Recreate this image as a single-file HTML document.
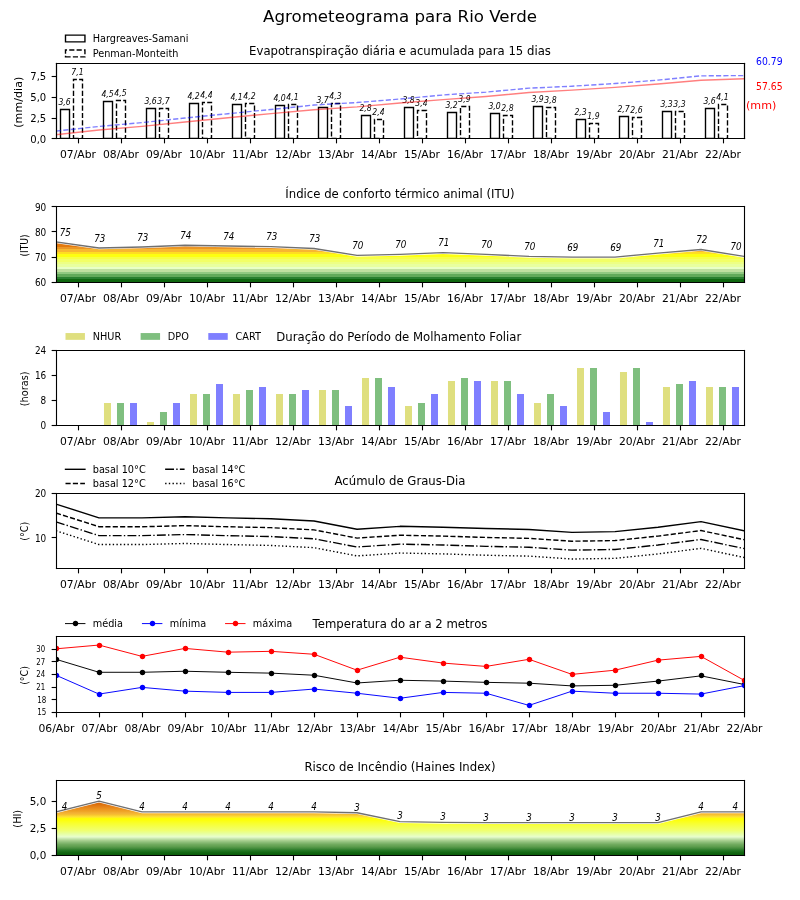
<!DOCTYPE html>
<html><head><meta charset="utf-8"><title>Agrometeograma para Rio Verde</title><style>html,body{margin:0;padding:0;background:#fff;}svg{display:block;}</style></head><body>
<svg width="800" height="900" viewBox="0 0 576 648" version="1.1">
  <defs><linearGradient id="gITU" gradientUnits="userSpaceOnUse" x1="0" y1="202.855" x2="0" y2="174.252"><stop offset="0.0000" stop-color="#0f670f"/><stop offset="0.0633" stop-color="#0f670f"/><stop offset="0.0633" stop-color="#2a8030"/><stop offset="0.1266" stop-color="#2a8030"/><stop offset="0.1266" stop-color="#62aa5a"/><stop offset="0.1899" stop-color="#62aa5a"/><stop offset="0.1899" stop-color="#91c981"/><stop offset="0.2532" stop-color="#91c981"/><stop offset="0.2532" stop-color="#c0e0a0"/><stop offset="0.3165" stop-color="#c0e0a0"/><stop offset="0.3165" stop-color="#e8ffc6"/><stop offset="0.3797" stop-color="#e8ffc6"/><stop offset="0.3797" stop-color="#e8ff9f"/><stop offset="0.4430" stop-color="#e8ff9f"/><stop offset="0.4430" stop-color="#edff84"/><stop offset="0.5063" stop-color="#edff84"/><stop offset="0.5063" stop-color="#f2ff66"/><stop offset="0.5696" stop-color="#f2ff66"/><stop offset="0.5696" stop-color="#f7ff45"/><stop offset="0.6329" stop-color="#f7ff45"/><stop offset="0.6329" stop-color="#fdff11"/><stop offset="0.6962" stop-color="#fdff11"/><stop offset="0.6962" stop-color="#ffdd22"/><stop offset="0.7595" stop-color="#ffdd22"/><stop offset="0.7595" stop-color="#f8b730"/><stop offset="0.8228" stop-color="#f8b730"/><stop offset="0.8228" stop-color="#eb9626"/><stop offset="0.8861" stop-color="#eb9626"/><stop offset="0.8861" stop-color="#e3790d"/><stop offset="0.9494" stop-color="#e3790d"/><stop offset="0.9494" stop-color="#de6700"/><stop offset="1.0000" stop-color="#de6700"/></linearGradient><linearGradient id="gHI" gradientUnits="userSpaceOnUse" x1="0" y1="615.600" x2="0" y2="576.808"><stop offset="0.0000" stop-color="#0a5c0a"/><stop offset="0.0460" stop-color="#126812"/><stop offset="0.0830" stop-color="#237723"/><stop offset="0.1210" stop-color="#448c3c"/><stop offset="0.1580" stop-color="#5e9e4e"/><stop offset="0.1950" stop-color="#70aa5e"/><stop offset="0.2320" stop-color="#8abc76"/><stop offset="0.2690" stop-color="#a8d090"/><stop offset="0.3000" stop-color="#c4e4ac"/><stop offset="0.3250" stop-color="#dcf4c4"/><stop offset="0.3450" stop-color="#e8ffc8"/><stop offset="0.3650" stop-color="#e8ffb8"/><stop offset="0.4050" stop-color="#e8ff98"/><stop offset="0.4550" stop-color="#f0ff70"/><stop offset="0.5200" stop-color="#f4ff50"/><stop offset="0.5840" stop-color="#f8ff30"/><stop offset="0.6400" stop-color="#fcff10"/><stop offset="0.6750" stop-color="#ffff00"/><stop offset="0.6900" stop-color="#fff020"/><stop offset="0.7050" stop-color="#fde530"/><stop offset="0.7200" stop-color="#fcd834"/><stop offset="0.7400" stop-color="#f8c830"/><stop offset="0.7600" stop-color="#f5b830"/><stop offset="0.7800" stop-color="#f2b038"/><stop offset="0.8000" stop-color="#f0a828"/><stop offset="0.8500" stop-color="#ec9420"/><stop offset="0.9000" stop-color="#e48018"/><stop offset="0.9600" stop-color="#d86808"/><stop offset="1.0000" stop-color="#d46008"/></linearGradient>
  <style type="text/css">*{stroke-linejoin: round; stroke-linecap: butt}</style>
 </defs>
 <g id="figure_1">
  <g id="patch_1">
   <path d="M 0 648 L 576 648 L 576 0 L 0 0 z
" style="fill: #ffffff"/>
  </g>
  <g id="axes_1">
   <g id="patch_2">
    <path d="M 40.32 99.668571 L 535.68 99.668571 L 535.68 45.36 L 40.32 45.36 z
" style="fill: #ffffff"/>
   </g>
   <g id="patch_3">
    <path d="M 43.56 99.72 L 50.04 99.72 L 50.04 78.84 L 43.56 78.84 L 43.56 99.72 z
" clip-path="url(#pa5bd906f96)" style="fill: none; stroke: #000000; stroke-linejoin: miter"/>
   </g>
   <g id="patch_4">
    <path d="M 74.52 99.72 L 81 99.72 L 81 73.08 L 74.52 73.08 L 74.52 99.72 z
" clip-path="url(#pa5bd906f96)" style="fill: none; stroke: #000000; stroke-linejoin: miter"/>
   </g>
   <g id="patch_5">
    <path d="M 105.48 99.72 L 111.96 99.72 L 111.96 78.12 L 105.48 78.12 L 105.48 99.72 z
" clip-path="url(#pa5bd906f96)" style="fill: none; stroke: #000000; stroke-linejoin: miter"/>
   </g>
   <g id="patch_6">
    <path d="M 136.44 99.72 L 142.92 99.72 L 142.92 74.52 L 136.44 74.52 L 136.44 99.72 z
" clip-path="url(#pa5bd906f96)" style="fill: none; stroke: #000000; stroke-linejoin: miter"/>
   </g>
   <g id="patch_7">
    <path d="M 167.4 99.72 L 173.88 99.72 L 173.88 75.24 L 167.4 75.24 L 167.4 99.72 z
" clip-path="url(#pa5bd906f96)" style="fill: none; stroke: #000000; stroke-linejoin: miter"/>
   </g>
   <g id="patch_8">
    <path d="M 198.36 99.72 L 204.84 99.72 L 204.84 75.96 L 198.36 75.96 L 198.36 99.72 z
" clip-path="url(#pa5bd906f96)" style="fill: none; stroke: #000000; stroke-linejoin: miter"/>
   </g>
   <g id="patch_9">
    <path d="M 229.32 99.72 L 235.8 99.72 L 235.8 77.4 L 229.32 77.4 L 229.32 99.72 z
" clip-path="url(#pa5bd906f96)" style="fill: none; stroke: #000000; stroke-linejoin: miter"/>
   </g>
   <g id="patch_10">
    <path d="M 260.28 99.72 L 266.76 99.72 L 266.76 83.16 L 260.28 83.16 L 260.28 99.72 z
" clip-path="url(#pa5bd906f96)" style="fill: none; stroke: #000000; stroke-linejoin: miter"/>
   </g>
   <g id="patch_11">
    <path d="M 291.24 99.72 L 297.72 99.72 L 297.72 77.4 L 291.24 77.4 L 291.24 99.72 z
" clip-path="url(#pa5bd906f96)" style="fill: none; stroke: #000000; stroke-linejoin: miter"/>
   </g>
   <g id="patch_12">
    <path d="M 322.2 99.72 L 328.68 99.72 L 328.68 81 L 322.2 81 L 322.2 99.72 z
" clip-path="url(#pa5bd906f96)" style="fill: none; stroke: #000000; stroke-linejoin: miter"/>
   </g>
   <g id="patch_13">
    <path d="M 353.16 99.72 L 359.64 99.72 L 359.64 81.72 L 353.16 81.72 L 353.16 99.72 z
" clip-path="url(#pa5bd906f96)" style="fill: none; stroke: #000000; stroke-linejoin: miter"/>
   </g>
   <g id="patch_14">
    <path d="M 384.12 99.72 L 390.6 99.72 L 390.6 76.68 L 384.12 76.68 L 384.12 99.72 z
" clip-path="url(#pa5bd906f96)" style="fill: none; stroke: #000000; stroke-linejoin: miter"/>
   </g>
   <g id="patch_15">
    <path d="M 415.08 99.72 L 421.56 99.72 L 421.56 86.04 L 415.08 86.04 L 415.08 99.72 z
" clip-path="url(#pa5bd906f96)" style="fill: none; stroke: #000000; stroke-linejoin: miter"/>
   </g>
   <g id="patch_16">
    <path d="M 446.04 99.72 L 452.52 99.72 L 452.52 83.88 L 446.04 83.88 L 446.04 99.72 z
" clip-path="url(#pa5bd906f96)" style="fill: none; stroke: #000000; stroke-linejoin: miter"/>
   </g>
   <g id="patch_17">
    <path d="M 477 99.72 L 483.48 99.72 L 483.48 80.28 L 477 80.28 L 477 99.72 z
" clip-path="url(#pa5bd906f96)" style="fill: none; stroke: #000000; stroke-linejoin: miter"/>
   </g>
   <g id="patch_18">
    <path d="M 507.96 99.72 L 514.44 99.72 L 514.44 78.12 L 507.96 78.12 L 507.96 99.72 z
" clip-path="url(#pa5bd906f96)" style="fill: none; stroke: #000000; stroke-linejoin: miter"/>
   </g>
   <g id="patch_19">
    <path d="M 52.92 99.72 L 59.4 99.72 L 59.4 57.24 L 52.92 57.24 L 52.92 99.72 z
" clip-path="url(#pa5bd906f96)" style="fill: none; stroke-dasharray: 3.7,1.6; stroke-dashoffset: 0; stroke: #000000; stroke-linejoin: miter"/>
   </g>
   <g id="patch_20">
    <path d="M 83.88 99.72 L 90.36 99.72 L 90.36 72.36 L 83.88 72.36 L 83.88 99.72 z
" clip-path="url(#pa5bd906f96)" style="fill: none; stroke-dasharray: 3.7,1.6; stroke-dashoffset: 0; stroke: #000000; stroke-linejoin: miter"/>
   </g>
   <g id="patch_21">
    <path d="M 114.84 99.72 L 121.32 99.72 L 121.32 78.12 L 114.84 78.12 L 114.84 99.72 z
" clip-path="url(#pa5bd906f96)" style="fill: none; stroke-dasharray: 3.7,1.6; stroke-dashoffset: 0; stroke: #000000; stroke-linejoin: miter"/>
   </g>
   <g id="patch_22">
    <path d="M 145.8 99.72 L 152.28 99.72 L 152.28 73.8 L 145.8 73.8 L 145.8 99.72 z
" clip-path="url(#pa5bd906f96)" style="fill: none; stroke-dasharray: 3.7,1.6; stroke-dashoffset: 0; stroke: #000000; stroke-linejoin: miter"/>
   </g>
   <g id="patch_23">
    <path d="M 176.76 99.72 L 183.24 99.72 L 183.24 74.52 L 176.76 74.52 L 176.76 99.72 z
" clip-path="url(#pa5bd906f96)" style="fill: none; stroke-dasharray: 3.7,1.6; stroke-dashoffset: 0; stroke: #000000; stroke-linejoin: miter"/>
   </g>
   <g id="patch_24">
    <path d="M 207.72 99.72 L 214.2 99.72 L 214.2 75.24 L 207.72 75.24 L 207.72 99.72 z
" clip-path="url(#pa5bd906f96)" style="fill: none; stroke-dasharray: 3.7,1.6; stroke-dashoffset: 0; stroke: #000000; stroke-linejoin: miter"/>
   </g>
   <g id="patch_25">
    <path d="M 238.68 99.72 L 245.16 99.72 L 245.16 74.52 L 238.68 74.52 L 238.68 99.72 z
" clip-path="url(#pa5bd906f96)" style="fill: none; stroke-dasharray: 3.7,1.6; stroke-dashoffset: 0; stroke: #000000; stroke-linejoin: miter"/>
   </g>
   <g id="patch_26">
    <path d="M 269.64 99.72 L 276.12 99.72 L 276.12 86.04 L 269.64 86.04 L 269.64 99.72 z
" clip-path="url(#pa5bd906f96)" style="fill: none; stroke-dasharray: 3.7,1.6; stroke-dashoffset: 0; stroke: #000000; stroke-linejoin: miter"/>
   </g>
   <g id="patch_27">
    <path d="M 300.6 99.72 L 307.08 99.72 L 307.08 79.56 L 300.6 79.56 L 300.6 99.72 z
" clip-path="url(#pa5bd906f96)" style="fill: none; stroke-dasharray: 3.7,1.6; stroke-dashoffset: 0; stroke: #000000; stroke-linejoin: miter"/>
   </g>
   <g id="patch_28">
    <path d="M 331.56 99.72 L 338.04 99.72 L 338.04 76.68 L 331.56 76.68 L 331.56 99.72 z
" clip-path="url(#pa5bd906f96)" style="fill: none; stroke-dasharray: 3.7,1.6; stroke-dashoffset: 0; stroke: #000000; stroke-linejoin: miter"/>
   </g>
   <g id="patch_29">
    <path d="M 362.52 99.72 L 369 99.72 L 369 83.16 L 362.52 83.16 L 362.52 99.72 z
" clip-path="url(#pa5bd906f96)" style="fill: none; stroke-dasharray: 3.7,1.6; stroke-dashoffset: 0; stroke: #000000; stroke-linejoin: miter"/>
   </g>
   <g id="patch_30">
    <path d="M 393.48 99.72 L 399.96 99.72 L 399.96 77.4 L 393.48 77.4 L 393.48 99.72 z
" clip-path="url(#pa5bd906f96)" style="fill: none; stroke-dasharray: 3.7,1.6; stroke-dashoffset: 0; stroke: #000000; stroke-linejoin: miter"/>
   </g>
   <g id="patch_31">
    <path d="M 424.44 99.72 L 430.92 99.72 L 430.92 88.92 L 424.44 88.92 L 424.44 99.72 z
" clip-path="url(#pa5bd906f96)" style="fill: none; stroke-dasharray: 3.7,1.6; stroke-dashoffset: 0; stroke: #000000; stroke-linejoin: miter"/>
   </g>
   <g id="patch_32">
    <path d="M 455.4 99.72 L 461.88 99.72 L 461.88 84.6 L 455.4 84.6 L 455.4 99.72 z
" clip-path="url(#pa5bd906f96)" style="fill: none; stroke-dasharray: 3.7,1.6; stroke-dashoffset: 0; stroke: #000000; stroke-linejoin: miter"/>
   </g>
   <g id="patch_33">
    <path d="M 486.36 99.72 L 492.84 99.72 L 492.84 80.28 L 486.36 80.28 L 486.36 99.72 z
" clip-path="url(#pa5bd906f96)" style="fill: none; stroke-dasharray: 3.7,1.6; stroke-dashoffset: 0; stroke: #000000; stroke-linejoin: miter"/>
   </g>
   <g id="patch_34">
    <path d="M 517.32 99.72 L 523.8 99.72 L 523.8 75.24 L 517.32 75.24 L 517.32 99.72 z
" clip-path="url(#pa5bd906f96)" style="fill: none; stroke-dasharray: 3.7,1.6; stroke-dashoffset: 0; stroke: #000000; stroke-linejoin: miter"/>
   </g>
   <g id="matplotlib.axis_1">
    <g id="xtick_1">
     <g id="line2d_1">
      <defs>
       <path id="m1504cfccaf" d="M 0 0 L 0 3.5 " style="stroke: #000000; stroke-width: 0.8"/>
      </defs>
      <g>
       <use href="#m1504cfccaf" x="56.52" y="99.72" style="stroke: #000000; stroke-width: 0.8"/>
      </g>
     </g>
     <g id="xt0_0">
      <text style="font-size: 8px; font-family: 'DejaVu Sans', sans-serif; text-anchor: middle" x="55.8" y="114.043321" transform="translate(0.36 0) rotate(-0 55.8 114.043321) translate(55.8 114.043321) scale(0.97 1) translate(-55.8 -114.043321)">07/Abr</text>
     </g>
    </g>
    <g id="xtick_2">
     <g id="line2d_2">
      <g>
       <use href="#m1504cfccaf" x="87.48" y="99.72" style="stroke: #000000; stroke-width: 0.8"/>
      </g>
     </g>
     <g id="xt0_1">
      <text style="font-size: 8px; font-family: 'DejaVu Sans', sans-serif; text-anchor: middle" x="86.76" y="114.043321" transform="translate(0.36 0) rotate(-0 86.76 114.043321) translate(86.76 114.043321) scale(0.97 1) translate(-86.76 -114.043321)">08/Abr</text>
     </g>
    </g>
    <g id="xtick_3">
     <g id="line2d_3">
      <g>
       <use href="#m1504cfccaf" x="118.44" y="99.72" style="stroke: #000000; stroke-width: 0.8"/>
      </g>
     </g>
     <g id="xt0_2">
      <text style="font-size: 8px; font-family: 'DejaVu Sans', sans-serif; text-anchor: middle" x="117.72" y="114.043321" transform="translate(0.36 0) rotate(-0 117.72 114.043321) translate(117.72 114.043321) scale(0.97 1) translate(-117.72 -114.043321)">09/Abr</text>
     </g>
    </g>
    <g id="xtick_4">
     <g id="line2d_4">
      <g>
       <use href="#m1504cfccaf" x="149.4" y="99.72" style="stroke: #000000; stroke-width: 0.8"/>
      </g>
     </g>
     <g id="xt0_3">
      <text style="font-size: 8px; font-family: 'DejaVu Sans', sans-serif; text-anchor: middle" x="148.68" y="114.043321" transform="translate(0.36 0) rotate(-0 148.68 114.043321) translate(148.68 114.043321) scale(0.97 1) translate(-148.68 -114.043321)">10/Abr</text>
     </g>
    </g>
    <g id="xtick_5">
     <g id="line2d_5">
      <g>
       <use href="#m1504cfccaf" x="180.36" y="99.72" style="stroke: #000000; stroke-width: 0.8"/>
      </g>
     </g>
     <g id="xt0_4">
      <text style="font-size: 8px; font-family: 'DejaVu Sans', sans-serif; text-anchor: middle" x="179.64" y="114.043321" transform="translate(0.36 0) rotate(-0 179.64 114.043321) translate(179.64 114.043321) scale(0.97 1) translate(-179.64 -114.043321)">11/Abr</text>
     </g>
    </g>
    <g id="xtick_6">
     <g id="line2d_6">
      <g>
       <use href="#m1504cfccaf" x="211.32" y="99.72" style="stroke: #000000; stroke-width: 0.8"/>
      </g>
     </g>
     <g id="xt0_5">
      <text style="font-size: 8px; font-family: 'DejaVu Sans', sans-serif; text-anchor: middle" x="210.6" y="114.043321" transform="translate(0.36 0) rotate(-0 210.6 114.043321) translate(210.6 114.043321) scale(0.97 1) translate(-210.6 -114.043321)">12/Abr</text>
     </g>
    </g>
    <g id="xtick_7">
     <g id="line2d_7">
      <g>
       <use href="#m1504cfccaf" x="242.28" y="99.72" style="stroke: #000000; stroke-width: 0.8"/>
      </g>
     </g>
     <g id="xt0_6">
      <text style="font-size: 8px; font-family: 'DejaVu Sans', sans-serif; text-anchor: middle" x="241.56" y="114.043321" transform="translate(0.36 0) rotate(-0 241.56 114.043321) translate(241.56 114.043321) scale(0.97 1) translate(-241.56 -114.043321)">13/Abr</text>
     </g>
    </g>
    <g id="xtick_8">
     <g id="line2d_8">
      <g>
       <use href="#m1504cfccaf" x="273.24" y="99.72" style="stroke: #000000; stroke-width: 0.8"/>
      </g>
     </g>
     <g id="xt0_7">
      <text style="font-size: 8px; font-family: 'DejaVu Sans', sans-serif; text-anchor: middle" x="272.52" y="114.043321" transform="translate(0.36 0) rotate(-0 272.52 114.043321) translate(272.52 114.043321) scale(0.97 1) translate(-272.52 -114.043321)">14/Abr</text>
     </g>
    </g>
    <g id="xtick_9">
     <g id="line2d_9">
      <g>
       <use href="#m1504cfccaf" x="304.2" y="99.72" style="stroke: #000000; stroke-width: 0.8"/>
      </g>
     </g>
     <g id="xt0_8">
      <text style="font-size: 8px; font-family: 'DejaVu Sans', sans-serif; text-anchor: middle" x="303.48" y="114.043321" transform="translate(0.36 0) rotate(-0 303.48 114.043321) translate(303.48 114.043321) scale(0.97 1) translate(-303.48 -114.043321)">15/Abr</text>
     </g>
    </g>
    <g id="xtick_10">
     <g id="line2d_10">
      <g>
       <use href="#m1504cfccaf" x="335.16" y="99.72" style="stroke: #000000; stroke-width: 0.8"/>
      </g>
     </g>
     <g id="xt0_9">
      <text style="font-size: 8px; font-family: 'DejaVu Sans', sans-serif; text-anchor: middle" x="334.44" y="114.043321" transform="translate(0.36 0) rotate(-0 334.44 114.043321) translate(334.44 114.043321) scale(0.97 1) translate(-334.44 -114.043321)">16/Abr</text>
     </g>
    </g>
    <g id="xtick_11">
     <g id="line2d_11">
      <g>
       <use href="#m1504cfccaf" x="366.12" y="99.72" style="stroke: #000000; stroke-width: 0.8"/>
      </g>
     </g>
     <g id="xt0_10">
      <text style="font-size: 8px; font-family: 'DejaVu Sans', sans-serif; text-anchor: middle" x="365.4" y="114.043321" transform="translate(0.36 0) rotate(-0 365.4 114.043321) translate(365.4 114.043321) scale(0.97 1) translate(-365.4 -114.043321)">17/Abr</text>
     </g>
    </g>
    <g id="xtick_12">
     <g id="line2d_12">
      <g>
       <use href="#m1504cfccaf" x="397.08" y="99.72" style="stroke: #000000; stroke-width: 0.8"/>
      </g>
     </g>
     <g id="xt0_11">
      <text style="font-size: 8px; font-family: 'DejaVu Sans', sans-serif; text-anchor: middle" x="396.36" y="114.043321" transform="translate(0.36 0) rotate(-0 396.36 114.043321) translate(396.36 114.043321) scale(0.97 1) translate(-396.36 -114.043321)">18/Abr</text>
     </g>
    </g>
    <g id="xtick_13">
     <g id="line2d_13">
      <g>
       <use href="#m1504cfccaf" x="428.04" y="99.72" style="stroke: #000000; stroke-width: 0.8"/>
      </g>
     </g>
     <g id="xt0_12">
      <text style="font-size: 8px; font-family: 'DejaVu Sans', sans-serif; text-anchor: middle" x="427.32" y="114.043321" transform="translate(0.36 0) rotate(-0 427.32 114.043321) translate(427.32 114.043321) scale(0.97 1) translate(-427.32 -114.043321)">19/Abr</text>
     </g>
    </g>
    <g id="xtick_14">
     <g id="line2d_14">
      <g>
       <use href="#m1504cfccaf" x="459" y="99.72" style="stroke: #000000; stroke-width: 0.8"/>
      </g>
     </g>
     <g id="xt0_13">
      <text style="font-size: 8px; font-family: 'DejaVu Sans', sans-serif; text-anchor: middle" x="458.28" y="114.043321" transform="translate(0.36 0) rotate(-0 458.28 114.043321) translate(458.28 114.043321) scale(0.97 1) translate(-458.28 -114.043321)">20/Abr</text>
     </g>
    </g>
    <g id="xtick_15">
     <g id="line2d_15">
      <g>
       <use href="#m1504cfccaf" x="489.96" y="99.72" style="stroke: #000000; stroke-width: 0.8"/>
      </g>
     </g>
     <g id="xt0_14">
      <text style="font-size: 8px; font-family: 'DejaVu Sans', sans-serif; text-anchor: middle" x="489.24" y="114.043321" transform="translate(0.36 0) rotate(-0 489.24 114.043321) translate(489.24 114.043321) scale(0.97 1) translate(-489.24 -114.043321)">21/Abr</text>
     </g>
    </g>
    <g id="xtick_16">
     <g id="line2d_16">
      <g>
       <use href="#m1504cfccaf" x="520.92" y="99.72" style="stroke: #000000; stroke-width: 0.8"/>
      </g>
     </g>
     <g id="xt0_15">
      <text style="font-size: 8px; font-family: 'DejaVu Sans', sans-serif; text-anchor: middle" x="520.2" y="114.043321" transform="translate(0.36 0) rotate(-0 520.2 114.043321) translate(520.2 114.043321) scale(0.97 1) translate(-520.2 -114.043321)">22/Abr</text>
     </g>
    </g>
   </g>
   <g id="matplotlib.axis_2">
    <g id="ytick_1">
     <g id="line2d_17">
      <defs>
       <path id="m5d545ce8f8" d="M 0 0 L -3.5 0 " style="stroke: #000000; stroke-width: 0.8"/>
      </defs>
      <g>
       <use href="#m5d545ce8f8" x="40.68" y="99.72" style="stroke: #000000; stroke-width: 0.8"/>
      </g>
     </g>
     <g id="yt0_0">
      <text style="font-size: 8px; font-family: 'DejaVu Sans', sans-serif; text-anchor: end" x="33.32" y="102.707946" transform="translate(0 0) rotate(-0 33.32 102.707946) translate(33.32 102.707946) scale(0.906 1) translate(-33.32 -102.707946)">0,0</text>
     </g>
    </g>
    <g id="ytick_2">
     <g id="line2d_18">
      <g>
       <use href="#m5d545ce8f8" x="40.68" y="85.32" style="stroke: #000000; stroke-width: 0.8"/>
      </g>
     </g>
     <g id="yt0_1">
      <text style="font-size: 8px; font-family: 'DejaVu Sans', sans-serif; text-anchor: end" x="33.32" y="87.788009" transform="translate(0 0) rotate(-0 33.32 87.788009) translate(33.32 87.788009) scale(0.906 1) translate(-33.32 -87.788009)">2,5</text>
     </g>
    </g>
    <g id="ytick_3">
     <g id="line2d_19">
      <g>
       <use href="#m5d545ce8f8" x="40.68" y="70.2" style="stroke: #000000; stroke-width: 0.8"/>
      </g>
     </g>
     <g id="yt0_2">
      <text style="font-size: 8px; font-family: 'DejaVu Sans', sans-serif; text-anchor: end" x="33.32" y="72.868072" transform="translate(0 0) rotate(-0 33.32 72.868072) translate(33.32 72.868072) scale(0.906 1) translate(-33.32 -72.868072)">5,0</text>
     </g>
    </g>
    <g id="ytick_4">
     <g id="line2d_20">
      <g>
       <use href="#m5d545ce8f8" x="40.68" y="55.08" style="stroke: #000000; stroke-width: 0.8"/>
      </g>
     </g>
     <g id="yt0_3">
      <text style="font-size: 8px; font-family: 'DejaVu Sans', sans-serif; text-anchor: end" x="33.32" y="57.948135" transform="translate(0 0) rotate(-0 33.32 57.948135) translate(33.32 57.948135) scale(0.906 1) translate(-33.32 -57.948135)">7,5</text>
     </g>
    </g>
    <g id="yl0">
     <text style="font-size: 8px; font-family: 'DejaVu Sans', sans-serif; text-anchor: middle" x="14.93375" y="72.514286" transform="translate(0.72 1.08) rotate(-90 14.93375 72.514286)">(mm/dia)</text>
    </g>
   </g>
   <g id="patch_35">
    <path d="M 40.68 99.72 L 40.68 45.72 " style="fill: none; stroke: #000000; stroke-width: 0.8; stroke-linejoin: miter; stroke-linecap: square"/>
   </g>
   <g id="patch_36">
    <path d="M 536.04 99.72 L 536.04 45.72 " style="fill: none; stroke: #000000; stroke-width: 0.8; stroke-linejoin: miter; stroke-linecap: square"/>
   </g>
   <g id="patch_37">
    <path d="M 40.68 99.72 L 536.04 99.72 " style="fill: none; stroke: #000000; stroke-width: 0.8; stroke-linejoin: miter; stroke-linecap: square"/>
   </g>
   <g id="patch_38">
    <path d="M 40.68 45.72 L 536.04 45.72 " style="fill: none; stroke: #000000; stroke-width: 0.8; stroke-linejoin: miter; stroke-linecap: square"/>
   </g>
   <g id="bl0">
    <text style="font-style: italic; font-size: 6px; font-family: 'DejaVu Sans', sans-serif; text-anchor: middle" x="46.512" y="75.901329" transform="translate(0 0) rotate(-0 46.512 75.901329) translate(46.512 75.901329) scale(0.93 1) translate(-46.512 -75.901329)">3,6</text>
   </g>
   <g id="bl20">
    <text style="font-style: italic; font-size: 6px; font-family: 'DejaVu Sans', sans-serif; text-anchor: middle" x="55.8" y="54.301329" transform="translate(0 0) rotate(-0 55.8 54.301329) translate(55.8 54.301329) scale(0.93 1) translate(-55.8 -54.301329)">7,1</text>
   </g>
   <g id="bl1">
    <text style="font-style: italic; font-size: 6px; font-family: 'DejaVu Sans', sans-serif; text-anchor: middle" x="77.472" y="70.141329" transform="translate(0 0) rotate(-0 77.472 70.141329) translate(77.472 70.141329) scale(0.93 1) translate(-77.472 -70.141329)">4,5</text>
   </g>
   <g id="bl21">
    <text style="font-style: italic; font-size: 6px; font-family: 'DejaVu Sans', sans-serif; text-anchor: middle" x="86.76" y="69.421329" transform="translate(0 0) rotate(-0 86.76 69.421329) translate(86.76 69.421329) scale(0.93 1) translate(-86.76 -69.421329)">4,5</text>
   </g>
   <g id="bl2">
    <text style="font-style: italic; font-size: 6px; font-family: 'DejaVu Sans', sans-serif; text-anchor: middle" x="108.432" y="75.181329" transform="translate(0 0) rotate(-0 108.432 75.181329) translate(108.432 75.181329) scale(0.93 1) translate(-108.432 -75.181329)">3,6</text>
   </g>
   <g id="bl22">
    <text style="font-style: italic; font-size: 6px; font-family: 'DejaVu Sans', sans-serif; text-anchor: middle" x="117.72" y="75.181329" transform="translate(0 0) rotate(-0 117.72 75.181329) translate(117.72 75.181329) scale(0.93 1) translate(-117.72 -75.181329)">3,7</text>
   </g>
   <g id="bl3">
    <text style="font-style: italic; font-size: 6px; font-family: 'DejaVu Sans', sans-serif; text-anchor: middle" x="139.392" y="71.581329" transform="translate(0 0) rotate(-0 139.392 71.581329) translate(139.392 71.581329) scale(0.93 1) translate(-139.392 -71.581329)">4,2</text>
   </g>
   <g id="bl23">
    <text style="font-style: italic; font-size: 6px; font-family: 'DejaVu Sans', sans-serif; text-anchor: middle" x="148.68" y="70.861329" transform="translate(0 0) rotate(-0 148.68 70.861329) translate(148.68 70.861329) scale(0.93 1) translate(-148.68 -70.861329)">4,4</text>
   </g>
   <g id="bl4">
    <text style="font-style: italic; font-size: 6px; font-family: 'DejaVu Sans', sans-serif; text-anchor: middle" x="170.352" y="72.301329" transform="translate(0 0) rotate(-0 170.352 72.301329) translate(170.352 72.301329) scale(0.93 1) translate(-170.352 -72.301329)">4,1</text>
   </g>
   <g id="bl24">
    <text style="font-style: italic; font-size: 6px; font-family: 'DejaVu Sans', sans-serif; text-anchor: middle" x="179.64" y="71.581329" transform="translate(0 0) rotate(-0 179.64 71.581329) translate(179.64 71.581329) scale(0.93 1) translate(-179.64 -71.581329)">4,2</text>
   </g>
   <g id="bl5">
    <text style="font-style: italic; font-size: 6px; font-family: 'DejaVu Sans', sans-serif; text-anchor: middle" x="201.312" y="73.021329" transform="translate(0 0) rotate(-0 201.312 73.021329) translate(201.312 73.021329) scale(0.93 1) translate(-201.312 -73.021329)">4,0</text>
   </g>
   <g id="bl25">
    <text style="font-style: italic; font-size: 6px; font-family: 'DejaVu Sans', sans-serif; text-anchor: middle" x="210.6" y="72.301329" transform="translate(0 0) rotate(-0 210.6 72.301329) translate(210.6 72.301329) scale(0.93 1) translate(-210.6 -72.301329)">4,1</text>
   </g>
   <g id="bl6">
    <text style="font-style: italic; font-size: 6px; font-family: 'DejaVu Sans', sans-serif; text-anchor: middle" x="232.272" y="74.461329" transform="translate(0 0) rotate(-0 232.272 74.461329) translate(232.272 74.461329) scale(0.93 1) translate(-232.272 -74.461329)">3,7</text>
   </g>
   <g id="bl26">
    <text style="font-style: italic; font-size: 6px; font-family: 'DejaVu Sans', sans-serif; text-anchor: middle" x="241.56" y="71.581329" transform="translate(0 0) rotate(-0 241.56 71.581329) translate(241.56 71.581329) scale(0.93 1) translate(-241.56 -71.581329)">4,3</text>
   </g>
   <g id="bl7">
    <text style="font-style: italic; font-size: 6px; font-family: 'DejaVu Sans', sans-serif; text-anchor: middle" x="263.232" y="80.221329" transform="translate(0 0) rotate(-0 263.232 80.221329) translate(263.232 80.221329) scale(0.93 1) translate(-263.232 -80.221329)">2,8</text>
   </g>
   <g id="bl27">
    <text style="font-style: italic; font-size: 6px; font-family: 'DejaVu Sans', sans-serif; text-anchor: middle" x="272.52" y="83.101329" transform="translate(0 0) rotate(-0 272.52 83.101329) translate(272.52 83.101329) scale(0.93 1) translate(-272.52 -83.101329)">2,4</text>
   </g>
   <g id="bl8">
    <text style="font-style: italic; font-size: 6px; font-family: 'DejaVu Sans', sans-serif; text-anchor: middle" x="294.192" y="74.461329" transform="translate(0 0) rotate(-0 294.192 74.461329) translate(294.192 74.461329) scale(0.93 1) translate(-294.192 -74.461329)">3,8</text>
   </g>
   <g id="bl28">
    <text style="font-style: italic; font-size: 6px; font-family: 'DejaVu Sans', sans-serif; text-anchor: middle" x="303.48" y="76.621329" transform="translate(0 0) rotate(-0 303.48 76.621329) translate(303.48 76.621329) scale(0.93 1) translate(-303.48 -76.621329)">3,4</text>
   </g>
   <g id="bl9">
    <text style="font-style: italic; font-size: 6px; font-family: 'DejaVu Sans', sans-serif; text-anchor: middle" x="325.152" y="78.061329" transform="translate(0 0) rotate(-0 325.152 78.061329) translate(325.152 78.061329) scale(0.93 1) translate(-325.152 -78.061329)">3,2</text>
   </g>
   <g id="bl29">
    <text style="font-style: italic; font-size: 6px; font-family: 'DejaVu Sans', sans-serif; text-anchor: middle" x="334.44" y="73.741329" transform="translate(0 0) rotate(-0 334.44 73.741329) translate(334.44 73.741329) scale(0.93 1) translate(-334.44 -73.741329)">3,9</text>
   </g>
   <g id="bl10">
    <text style="font-style: italic; font-size: 6px; font-family: 'DejaVu Sans', sans-serif; text-anchor: middle" x="356.112" y="78.781329" transform="translate(0 0) rotate(-0 356.112 78.781329) translate(356.112 78.781329) scale(0.93 1) translate(-356.112 -78.781329)">3,0</text>
   </g>
   <g id="bl30">
    <text style="font-style: italic; font-size: 6px; font-family: 'DejaVu Sans', sans-serif; text-anchor: middle" x="365.4" y="80.221329" transform="translate(0 0) rotate(-0 365.4 80.221329) translate(365.4 80.221329) scale(0.93 1) translate(-365.4 -80.221329)">2,8</text>
   </g>
   <g id="bl11">
    <text style="font-style: italic; font-size: 6px; font-family: 'DejaVu Sans', sans-serif; text-anchor: middle" x="387.072" y="73.741329" transform="translate(0 0) rotate(-0 387.072 73.741329) translate(387.072 73.741329) scale(0.93 1) translate(-387.072 -73.741329)">3,9</text>
   </g>
   <g id="bl31">
    <text style="font-style: italic; font-size: 6px; font-family: 'DejaVu Sans', sans-serif; text-anchor: middle" x="396.36" y="74.461329" transform="translate(0 0) rotate(-0 396.36 74.461329) translate(396.36 74.461329) scale(0.93 1) translate(-396.36 -74.461329)">3,8</text>
   </g>
   <g id="bl12">
    <text style="font-style: italic; font-size: 6px; font-family: 'DejaVu Sans', sans-serif; text-anchor: middle" x="418.032" y="83.101329" transform="translate(0 0) rotate(-0 418.032 83.101329) translate(418.032 83.101329) scale(0.93 1) translate(-418.032 -83.101329)">2,3</text>
   </g>
   <g id="bl32">
    <text style="font-style: italic; font-size: 6px; font-family: 'DejaVu Sans', sans-serif; text-anchor: middle" x="427.32" y="85.981329" transform="translate(0 0) rotate(-0 427.32 85.981329) translate(427.32 85.981329) scale(0.93 1) translate(-427.32 -85.981329)">1,9</text>
   </g>
   <g id="bl13">
    <text style="font-style: italic; font-size: 6px; font-family: 'DejaVu Sans', sans-serif; text-anchor: middle" x="448.992" y="80.941329" transform="translate(0 0) rotate(-0 448.992 80.941329) translate(448.992 80.941329) scale(0.93 1) translate(-448.992 -80.941329)">2,7</text>
   </g>
   <g id="bl33">
    <text style="font-style: italic; font-size: 6px; font-family: 'DejaVu Sans', sans-serif; text-anchor: middle" x="458.28" y="81.661329" transform="translate(0 0) rotate(-0 458.28 81.661329) translate(458.28 81.661329) scale(0.93 1) translate(-458.28 -81.661329)">2,6</text>
   </g>
   <g id="bl14">
    <text style="font-style: italic; font-size: 6px; font-family: 'DejaVu Sans', sans-serif; text-anchor: middle" x="479.952" y="77.341329" transform="translate(0 0) rotate(-0 479.952 77.341329) translate(479.952 77.341329) scale(0.93 1) translate(-479.952 -77.341329)">3,3</text>
   </g>
   <g id="bl34">
    <text style="font-style: italic; font-size: 6px; font-family: 'DejaVu Sans', sans-serif; text-anchor: middle" x="489.24" y="77.341329" transform="translate(0 0) rotate(-0 489.24 77.341329) translate(489.24 77.341329) scale(0.93 1) translate(-489.24 -77.341329)">3,3</text>
   </g>
   <g id="bl15">
    <text style="font-style: italic; font-size: 6px; font-family: 'DejaVu Sans', sans-serif; text-anchor: middle" x="510.912" y="75.181329" transform="translate(0 0) rotate(-0 510.912 75.181329) translate(510.912 75.181329) scale(0.93 1) translate(-510.912 -75.181329)">3,6</text>
   </g>
   <g id="bl35">
    <text style="font-style: italic; font-size: 6px; font-family: 'DejaVu Sans', sans-serif; text-anchor: middle" x="520.2" y="72.301329" transform="translate(0 0) rotate(-0 520.2 72.301329) translate(520.2 72.301329) scale(0.93 1) translate(-520.2 -72.301329)">4,1</text>
   </g>
   <g id="t0">
    <text style="font-size: 8.5px; font-family: 'DejaVu Sans', sans-serif; text-anchor: middle" x="288" y="39.36" transform="translate(0 0) rotate(-0 288 39.36) translate(288 39.36) scale(0.99 1) translate(-288 -39.36)">Evapotranspiração diária e acumulada para 15 dias</text>
   </g>
   <g id="legend_1">
    <g id="patch_39">
     <path d="M 47.16 30.151469 L 61.16 30.151469 L 61.16 25.251469 L 47.16 25.251469 L 47.16 30.151469 z
" style="fill: none; stroke: #000000; stroke-linejoin: miter"/>
    </g>
    <g id="lg0_0">
     <text style="font-size: 7px; font-family: 'DejaVu Sans', sans-serif; text-anchor: start" x="66.76" y="30.151469" transform="rotate(-0 66.76 30.151469)">Hargreaves-Samani</text>
    </g>
    <g id="patch_40">
     <path d="M 47.16 40.916156 L 61.16 40.916156 L 61.16 36.016156 L 47.16 36.016156 L 47.16 40.916156 z
" style="fill: none; stroke-dasharray: 3.7,1.6; stroke-dashoffset: 0; stroke: #000000; stroke-linejoin: miter"/>
    </g>
    <g id="lg0_1">
     <text style="font-size: 7px; font-family: 'DejaVu Sans', sans-serif; text-anchor: start" x="66.76" y="40.916156" transform="rotate(-0 66.76 40.916156)">Penman-Monteith</text>
    </g>
   </g>
  </g>
  <g id="axes_2">
   <g id="patch_41">
    <path d="M 40.32 202.854857 L 535.68 202.854857 L 535.68 148.546286 L 40.32 148.546286 z
" style="fill: #ffffff"/>
   </g>
   <g id="patch_42">
    <path d="M 40.32 175.188325 L 71.28 179.533011 L 102.24 178.808897 L 133.2 177.541697 L 164.16 178.084782 L 195.12 178.537354 L 226.08 179.895068 L 257.04 184.782839 L 288 184.058725 L 318.96 182.791525 L 349.92 184.058725 L 380.88 185.506954 L 411.84 186.050039 L 442.8 186.050039 L 473.76 183.153582 L 504.72 180.619182 L 535.68 185.506954 L 535.68 203.574844 L 40.32 203.574844 z
" style="fill: url(#gITU)"/>
   </g>
   <g id="matplotlib.axis_3">
    <g id="xtick_17">
     <g id="line2d_21">
      <g>
       <use href="#m1504cfccaf" x="56.52" y="203.4" style="stroke: #000000; stroke-width: 0.8"/>
      </g>
     </g>
     <g id="xt1_0">
      <text style="font-size: 8px; font-family: 'DejaVu Sans', sans-serif; text-anchor: middle" x="55.8" y="217.229607" transform="translate(0.36 0) rotate(-0 55.8 217.229607) translate(55.8 217.229607) scale(0.97 1) translate(-55.8 -217.229607)">07/Abr</text>
     </g>
    </g>
    <g id="xtick_18">
     <g id="line2d_22">
      <g>
       <use href="#m1504cfccaf" x="87.48" y="203.4" style="stroke: #000000; stroke-width: 0.8"/>
      </g>
     </g>
     <g id="xt1_1">
      <text style="font-size: 8px; font-family: 'DejaVu Sans', sans-serif; text-anchor: middle" x="86.76" y="217.229607" transform="translate(0.36 0) rotate(-0 86.76 217.229607) translate(86.76 217.229607) scale(0.97 1) translate(-86.76 -217.229607)">08/Abr</text>
     </g>
    </g>
    <g id="xtick_19">
     <g id="line2d_23">
      <g>
       <use href="#m1504cfccaf" x="118.44" y="203.4" style="stroke: #000000; stroke-width: 0.8"/>
      </g>
     </g>
     <g id="xt1_2">
      <text style="font-size: 8px; font-family: 'DejaVu Sans', sans-serif; text-anchor: middle" x="117.72" y="217.229607" transform="translate(0.36 0) rotate(-0 117.72 217.229607) translate(117.72 217.229607) scale(0.97 1) translate(-117.72 -217.229607)">09/Abr</text>
     </g>
    </g>
    <g id="xtick_20">
     <g id="line2d_24">
      <g>
       <use href="#m1504cfccaf" x="149.4" y="203.4" style="stroke: #000000; stroke-width: 0.8"/>
      </g>
     </g>
     <g id="xt1_3">
      <text style="font-size: 8px; font-family: 'DejaVu Sans', sans-serif; text-anchor: middle" x="148.68" y="217.229607" transform="translate(0.36 0) rotate(-0 148.68 217.229607) translate(148.68 217.229607) scale(0.97 1) translate(-148.68 -217.229607)">10/Abr</text>
     </g>
    </g>
    <g id="xtick_21">
     <g id="line2d_25">
      <g>
       <use href="#m1504cfccaf" x="180.36" y="203.4" style="stroke: #000000; stroke-width: 0.8"/>
      </g>
     </g>
     <g id="xt1_4">
      <text style="font-size: 8px; font-family: 'DejaVu Sans', sans-serif; text-anchor: middle" x="179.64" y="217.229607" transform="translate(0.36 0) rotate(-0 179.64 217.229607) translate(179.64 217.229607) scale(0.97 1) translate(-179.64 -217.229607)">11/Abr</text>
     </g>
    </g>
    <g id="xtick_22">
     <g id="line2d_26">
      <g>
       <use href="#m1504cfccaf" x="211.32" y="203.4" style="stroke: #000000; stroke-width: 0.8"/>
      </g>
     </g>
     <g id="xt1_5">
      <text style="font-size: 8px; font-family: 'DejaVu Sans', sans-serif; text-anchor: middle" x="210.6" y="217.229607" transform="translate(0.36 0) rotate(-0 210.6 217.229607) translate(210.6 217.229607) scale(0.97 1) translate(-210.6 -217.229607)">12/Abr</text>
     </g>
    </g>
    <g id="xtick_23">
     <g id="line2d_27">
      <g>
       <use href="#m1504cfccaf" x="242.28" y="203.4" style="stroke: #000000; stroke-width: 0.8"/>
      </g>
     </g>
     <g id="xt1_6">
      <text style="font-size: 8px; font-family: 'DejaVu Sans', sans-serif; text-anchor: middle" x="241.56" y="217.229607" transform="translate(0.36 0) rotate(-0 241.56 217.229607) translate(241.56 217.229607) scale(0.97 1) translate(-241.56 -217.229607)">13/Abr</text>
     </g>
    </g>
    <g id="xtick_24">
     <g id="line2d_28">
      <g>
       <use href="#m1504cfccaf" x="273.24" y="203.4" style="stroke: #000000; stroke-width: 0.8"/>
      </g>
     </g>
     <g id="xt1_7">
      <text style="font-size: 8px; font-family: 'DejaVu Sans', sans-serif; text-anchor: middle" x="272.52" y="217.229607" transform="translate(0.36 0) rotate(-0 272.52 217.229607) translate(272.52 217.229607) scale(0.97 1) translate(-272.52 -217.229607)">14/Abr</text>
     </g>
    </g>
    <g id="xtick_25">
     <g id="line2d_29">
      <g>
       <use href="#m1504cfccaf" x="304.2" y="203.4" style="stroke: #000000; stroke-width: 0.8"/>
      </g>
     </g>
     <g id="xt1_8">
      <text style="font-size: 8px; font-family: 'DejaVu Sans', sans-serif; text-anchor: middle" x="303.48" y="217.229607" transform="translate(0.36 0) rotate(-0 303.48 217.229607) translate(303.48 217.229607) scale(0.97 1) translate(-303.48 -217.229607)">15/Abr</text>
     </g>
    </g>
    <g id="xtick_26">
     <g id="line2d_30">
      <g>
       <use href="#m1504cfccaf" x="335.16" y="203.4" style="stroke: #000000; stroke-width: 0.8"/>
      </g>
     </g>
     <g id="xt1_9">
      <text style="font-size: 8px; font-family: 'DejaVu Sans', sans-serif; text-anchor: middle" x="334.44" y="217.229607" transform="translate(0.36 0) rotate(-0 334.44 217.229607) translate(334.44 217.229607) scale(0.97 1) translate(-334.44 -217.229607)">16/Abr</text>
     </g>
    </g>
    <g id="xtick_27">
     <g id="line2d_31">
      <g>
       <use href="#m1504cfccaf" x="366.12" y="203.4" style="stroke: #000000; stroke-width: 0.8"/>
      </g>
     </g>
     <g id="xt1_10">
      <text style="font-size: 8px; font-family: 'DejaVu Sans', sans-serif; text-anchor: middle" x="365.4" y="217.229607" transform="translate(0.36 0) rotate(-0 365.4 217.229607) translate(365.4 217.229607) scale(0.97 1) translate(-365.4 -217.229607)">17/Abr</text>
     </g>
    </g>
    <g id="xtick_28">
     <g id="line2d_32">
      <g>
       <use href="#m1504cfccaf" x="397.08" y="203.4" style="stroke: #000000; stroke-width: 0.8"/>
      </g>
     </g>
     <g id="xt1_11">
      <text style="font-size: 8px; font-family: 'DejaVu Sans', sans-serif; text-anchor: middle" x="396.36" y="217.229607" transform="translate(0.36 0) rotate(-0 396.36 217.229607) translate(396.36 217.229607) scale(0.97 1) translate(-396.36 -217.229607)">18/Abr</text>
     </g>
    </g>
    <g id="xtick_29">
     <g id="line2d_33">
      <g>
       <use href="#m1504cfccaf" x="428.04" y="203.4" style="stroke: #000000; stroke-width: 0.8"/>
      </g>
     </g>
     <g id="xt1_12">
      <text style="font-size: 8px; font-family: 'DejaVu Sans', sans-serif; text-anchor: middle" x="427.32" y="217.229607" transform="translate(0.36 0) rotate(-0 427.32 217.229607) translate(427.32 217.229607) scale(0.97 1) translate(-427.32 -217.229607)">19/Abr</text>
     </g>
    </g>
    <g id="xtick_30">
     <g id="line2d_34">
      <g>
       <use href="#m1504cfccaf" x="459" y="203.4" style="stroke: #000000; stroke-width: 0.8"/>
      </g>
     </g>
     <g id="xt1_13">
      <text style="font-size: 8px; font-family: 'DejaVu Sans', sans-serif; text-anchor: middle" x="458.28" y="217.229607" transform="translate(0.36 0) rotate(-0 458.28 217.229607) translate(458.28 217.229607) scale(0.97 1) translate(-458.28 -217.229607)">20/Abr</text>
     </g>
    </g>
    <g id="xtick_31">
     <g id="line2d_35">
      <g>
       <use href="#m1504cfccaf" x="489.96" y="203.4" style="stroke: #000000; stroke-width: 0.8"/>
      </g>
     </g>
     <g id="xt1_14">
      <text style="font-size: 8px; font-family: 'DejaVu Sans', sans-serif; text-anchor: middle" x="489.24" y="217.229607" transform="translate(0.36 0) rotate(-0 489.24 217.229607) translate(489.24 217.229607) scale(0.97 1) translate(-489.24 -217.229607)">21/Abr</text>
     </g>
    </g>
    <g id="xtick_32">
     <g id="line2d_36">
      <g>
       <use href="#m1504cfccaf" x="520.92" y="203.4" style="stroke: #000000; stroke-width: 0.8"/>
      </g>
     </g>
     <g id="xt1_15">
      <text style="font-size: 8px; font-family: 'DejaVu Sans', sans-serif; text-anchor: middle" x="520.2" y="217.229607" transform="translate(0.36 0) rotate(-0 520.2 217.229607) translate(520.2 217.229607) scale(0.97 1) translate(-520.2 -217.229607)">22/Abr</text>
     </g>
    </g>
   </g>
   <g id="matplotlib.axis_4">
    <g id="ytick_5">
     <g id="line2d_37">
      <g>
       <use href="#m5d545ce8f8" x="40.68" y="203.4" style="stroke: #000000; stroke-width: 0.8"/>
      </g>
     </g>
     <g id="yt1_0">
      <text style="font-size: 8px; font-family: 'DejaVu Sans', sans-serif; text-anchor: end" x="33.32" y="205.894232" transform="translate(0 0) rotate(-0 33.32 205.894232) translate(33.32 205.894232) scale(0.8 1) translate(-33.32 -205.894232)">60</text>
     </g>
    </g>
    <g id="ytick_6">
     <g id="line2d_38">
      <g>
       <use href="#m5d545ce8f8" x="40.68" y="185.4" style="stroke: #000000; stroke-width: 0.8"/>
      </g>
     </g>
     <g id="yt1_1">
      <text style="font-size: 8px; font-family: 'DejaVu Sans', sans-serif; text-anchor: end" x="33.32" y="187.791375" transform="translate(0 0) rotate(-0 33.32 187.791375) translate(33.32 187.791375) scale(0.8 1) translate(-33.32 -187.791375)">70</text>
     </g>
    </g>
    <g id="ytick_7">
     <g id="line2d_39">
      <g>
       <use href="#m5d545ce8f8" x="40.68" y="166.68" style="stroke: #000000; stroke-width: 0.8"/>
      </g>
     </g>
     <g id="yt1_2">
      <text style="font-size: 8px; font-family: 'DejaVu Sans', sans-serif; text-anchor: end" x="33.32" y="169.688518" transform="translate(0 0) rotate(-0 33.32 169.688518) translate(33.32 169.688518) scale(0.8 1) translate(-33.32 -169.688518)">80</text>
     </g>
    </g>
    <g id="ytick_8">
     <g id="line2d_40">
      <g>
       <use href="#m5d545ce8f8" x="40.68" y="148.68" style="stroke: #000000; stroke-width: 0.8"/>
      </g>
     </g>
     <g id="yt1_3">
      <text style="font-size: 8px; font-family: 'DejaVu Sans', sans-serif; text-anchor: end" x="33.32" y="151.585661" transform="translate(0 0) rotate(-0 33.32 151.585661) translate(33.32 151.585661) scale(0.8 1) translate(-33.32 -151.585661)">90</text>
     </g>
    </g>
    <g id="yl1">
     <text style="font-size: 8px; font-family: 'DejaVu Sans', sans-serif; text-anchor: middle" x="17.47625" y="175.700571" transform="translate(2.34 1.008) rotate(-90 17.47625 175.700571) translate(17.47625 175.700571) scale(0.82 1) translate(-17.47625 -175.700571)">(ITU)</text>
    </g>
   </g>
   <g id="line2d_41">
    <path d="M 40.32 174.252343 L 71.28 178.597029 L 102.24 177.872914 L 133.2 176.605714 L 164.16 177.1488 L 195.12 177.601371 L 226.08 178.959086 L 257.04 183.846857 L 288 183.122743 L 318.96 181.855543 L 349.92 183.122743 L 380.88 184.570971 L 411.84 185.114057 L 442.8 185.114057 L 473.76 182.2176 L 504.72 179.6832 L 535.68 184.570971 " clip-path="url(#pe6c8016ddb)" style="fill: none; stroke: #707070; stroke-linecap: square"/>
   </g>
   <g id="patch_43">
    <path d="M 40.68 203.4 L 40.68 148.68 " style="fill: none; stroke: #000000; stroke-width: 0.8; stroke-linejoin: miter; stroke-linecap: square"/>
   </g>
   <g id="patch_44">
    <path d="M 536.04 203.4 L 536.04 148.68 " style="fill: none; stroke: #000000; stroke-width: 0.8; stroke-linejoin: miter; stroke-linecap: square"/>
   </g>
   <g id="patch_45">
    <path d="M 40.68 203.4 L 536.04 203.4 " style="fill: none; stroke: #000000; stroke-width: 0.8; stroke-linejoin: miter; stroke-linecap: square"/>
   </g>
   <g id="patch_46">
    <path d="M 40.68 148.68 L 536.04 148.68 " style="fill: none; stroke: #000000; stroke-width: 0.8; stroke-linejoin: miter; stroke-linecap: square"/>
   </g>
   <g id="lab0">
    <text style="font-style: italic; font-size: 7px; font-family: 'DejaVu Sans', sans-serif; text-anchor: middle" x="46.512" y="169.755282" transform="translate(0.504 0) rotate(-0 46.512 169.755282) translate(46.512 169.755282) scale(0.9 1) translate(-46.512 -169.755282)">75</text>
   </g>
   <g id="lab1">
    <text style="font-style: italic; font-size: 7px; font-family: 'DejaVu Sans', sans-serif; text-anchor: middle" x="71.28" y="174.099967" transform="translate(0.504 0) rotate(-0 71.28 174.099967) translate(71.28 174.099967) scale(0.9 1) translate(-71.28 -174.099967)">73</text>
   </g>
   <g id="lab2">
    <text style="font-style: italic; font-size: 7px; font-family: 'DejaVu Sans', sans-serif; text-anchor: middle" x="102.24" y="173.375853" transform="translate(0.504 0) rotate(-0 102.24 173.375853) translate(102.24 173.375853) scale(0.9 1) translate(-102.24 -173.375853)">73</text>
   </g>
   <g id="lab3">
    <text style="font-style: italic; font-size: 7px; font-family: 'DejaVu Sans', sans-serif; text-anchor: middle" x="133.2" y="172.108653" transform="translate(0.504 0) rotate(-0 133.2 172.108653) translate(133.2 172.108653) scale(0.9 1) translate(-133.2 -172.108653)">74</text>
   </g>
   <g id="lab4">
    <text style="font-style: italic; font-size: 7px; font-family: 'DejaVu Sans', sans-serif; text-anchor: middle" x="164.16" y="172.651739" transform="translate(0.504 0) rotate(-0 164.16 172.651739) translate(164.16 172.651739) scale(0.9 1) translate(-164.16 -172.651739)">74</text>
   </g>
   <g id="lab5">
    <text style="font-style: italic; font-size: 7px; font-family: 'DejaVu Sans', sans-serif; text-anchor: middle" x="195.12" y="173.10431" transform="translate(0.504 0) rotate(-0 195.12 173.10431) translate(195.12 173.10431) scale(0.9 1) translate(-195.12 -173.10431)">73</text>
   </g>
   <g id="lab6">
    <text style="font-style: italic; font-size: 7px; font-family: 'DejaVu Sans', sans-serif; text-anchor: middle" x="226.08" y="174.462024" transform="translate(0.504 0) rotate(-0 226.08 174.462024) translate(226.08 174.462024) scale(0.9 1) translate(-226.08 -174.462024)">73</text>
   </g>
   <g id="lab7">
    <text style="font-style: italic; font-size: 7px; font-family: 'DejaVu Sans', sans-serif; text-anchor: middle" x="257.04" y="179.349796" transform="translate(0.504 0) rotate(-0 257.04 179.349796) translate(257.04 179.349796) scale(0.9 1) translate(-257.04 -179.349796)">70</text>
   </g>
   <g id="lab8">
    <text style="font-style: italic; font-size: 7px; font-family: 'DejaVu Sans', sans-serif; text-anchor: middle" x="288" y="178.625682" transform="translate(0.504 0) rotate(-0 288 178.625682) translate(288 178.625682) scale(0.9 1) translate(-288 -178.625682)">70</text>
   </g>
   <g id="lab9">
    <text style="font-style: italic; font-size: 7px; font-family: 'DejaVu Sans', sans-serif; text-anchor: middle" x="318.96" y="177.358482" transform="translate(0.504 0) rotate(-0 318.96 177.358482) translate(318.96 177.358482) scale(0.9 1) translate(-318.96 -177.358482)">71</text>
   </g>
   <g id="lab10">
    <text style="font-style: italic; font-size: 7px; font-family: 'DejaVu Sans', sans-serif; text-anchor: middle" x="349.92" y="178.625682" transform="translate(0.504 0) rotate(-0 349.92 178.625682) translate(349.92 178.625682) scale(0.9 1) translate(-349.92 -178.625682)">70</text>
   </g>
   <g id="lab11">
    <text style="font-style: italic; font-size: 7px; font-family: 'DejaVu Sans', sans-serif; text-anchor: middle" x="380.88" y="180.07391" transform="translate(0.504 0) rotate(-0 380.88 180.07391) translate(380.88 180.07391) scale(0.9 1) translate(-380.88 -180.07391)">70</text>
   </g>
   <g id="lab12">
    <text style="font-style: italic; font-size: 7px; font-family: 'DejaVu Sans', sans-serif; text-anchor: middle" x="411.84" y="180.616996" transform="translate(0.504 0) rotate(-0 411.84 180.616996) translate(411.84 180.616996) scale(0.9 1) translate(-411.84 -180.616996)">69</text>
   </g>
   <g id="lab13">
    <text style="font-style: italic; font-size: 7px; font-family: 'DejaVu Sans', sans-serif; text-anchor: middle" x="442.8" y="180.616996" transform="translate(0.504 0) rotate(-0 442.8 180.616996) translate(442.8 180.616996) scale(0.9 1) translate(-442.8 -180.616996)">69</text>
   </g>
   <g id="lab14">
    <text style="font-style: italic; font-size: 7px; font-family: 'DejaVu Sans', sans-serif; text-anchor: middle" x="473.76" y="177.720539" transform="translate(0.504 0) rotate(-0 473.76 177.720539) translate(473.76 177.720539) scale(0.9 1) translate(-473.76 -177.720539)">71</text>
   </g>
   <g id="lab15">
    <text style="font-style: italic; font-size: 7px; font-family: 'DejaVu Sans', sans-serif; text-anchor: middle" x="504.72" y="175.186139" transform="translate(0.504 0) rotate(-0 504.72 175.186139) translate(504.72 175.186139) scale(0.9 1) translate(-504.72 -175.186139)">72</text>
   </g>
   <g id="lab16">
    <text style="font-style: italic; font-size: 7px; font-family: 'DejaVu Sans', sans-serif; text-anchor: middle" x="529.488" y="180.07391" transform="translate(0.504 0) rotate(-0 529.488 180.07391) translate(529.488 180.07391) scale(0.9 1) translate(-529.488 -180.07391)">70</text>
   </g>
   <g id="t1">
    <text style="font-size: 8.5px; font-family: 'DejaVu Sans', sans-serif; text-anchor: middle" x="288" y="142.546286" transform="translate(0 0) rotate(-0 288 142.546286) translate(288 142.546286) scale(0.99 1) translate(-288 -142.546286)">Índice de conforto térmico animal (ITU)</text>
   </g>
  </g>
  <g id="axes_3">
   <g id="patch_47">
    <path d="M 40.32 306.041143 L 535.68 306.041143 L 535.68 251.732571 L 40.32 251.732571 z
" style="fill: #ffffff"/>
   </g>
   <g id="patch_48">
    <path d="M 43.92 306 L 48.96 306 L 48.96 306 L 43.92 306 z
" clip-path="url(#p67f2713d9f)" style="fill: #bfbf00; opacity: 0.5"/>
   </g>
   <g id="patch_49">
    <path d="M 74.88 306 L 79.92 306 L 79.92 290.16 L 74.88 290.16 z
" clip-path="url(#p67f2713d9f)" style="fill: #bfbf00; opacity: 0.5"/>
   </g>
   <g id="patch_50">
    <path d="M 105.84 306 L 110.88 306 L 110.88 303.84 L 105.84 303.84 z
" clip-path="url(#p67f2713d9f)" style="fill: #bfbf00; opacity: 0.5"/>
   </g>
   <g id="patch_51">
    <path d="M 136.8 306 L 141.84 306 L 141.84 283.68 L 136.8 283.68 z
" clip-path="url(#p67f2713d9f)" style="fill: #bfbf00; opacity: 0.5"/>
   </g>
   <g id="patch_52">
    <path d="M 167.76 306 L 172.8 306 L 172.8 283.68 L 167.76 283.68 z
" clip-path="url(#p67f2713d9f)" style="fill: #bfbf00; opacity: 0.5"/>
   </g>
   <g id="patch_53">
    <path d="M 198.72 306 L 203.76 306 L 203.76 283.68 L 198.72 283.68 z
" clip-path="url(#p67f2713d9f)" style="fill: #bfbf00; opacity: 0.5"/>
   </g>
   <g id="patch_54">
    <path d="M 229.68 306 L 234.72 306 L 234.72 280.8 L 229.68 280.8 z
" clip-path="url(#p67f2713d9f)" style="fill: #bfbf00; opacity: 0.5"/>
   </g>
   <g id="patch_55">
    <path d="M 260.64 306 L 265.68 306 L 265.68 272.16 L 260.64 272.16 z
" clip-path="url(#p67f2713d9f)" style="fill: #bfbf00; opacity: 0.5"/>
   </g>
   <g id="patch_56">
    <path d="M 291.6 306 L 296.64 306 L 296.64 292.32 L 291.6 292.32 z
" clip-path="url(#p67f2713d9f)" style="fill: #bfbf00; opacity: 0.5"/>
   </g>
   <g id="patch_57">
    <path d="M 322.56 306 L 327.6 306 L 327.6 274.32 L 322.56 274.32 z
" clip-path="url(#p67f2713d9f)" style="fill: #bfbf00; opacity: 0.5"/>
   </g>
   <g id="patch_58">
    <path d="M 353.52 306 L 358.56 306 L 358.56 274.32 L 353.52 274.32 z
" clip-path="url(#p67f2713d9f)" style="fill: #bfbf00; opacity: 0.5"/>
   </g>
   <g id="patch_59">
    <path d="M 384.48 306 L 389.52 306 L 389.52 290.16 L 384.48 290.16 z
" clip-path="url(#p67f2713d9f)" style="fill: #bfbf00; opacity: 0.5"/>
   </g>
   <g id="patch_60">
    <path d="M 415.44 306 L 420.48 306 L 420.48 264.96 L 415.44 264.96 z
" clip-path="url(#p67f2713d9f)" style="fill: #bfbf00; opacity: 0.5"/>
   </g>
   <g id="patch_61">
    <path d="M 446.4 306 L 451.44 306 L 451.44 267.84 L 446.4 267.84 z
" clip-path="url(#p67f2713d9f)" style="fill: #bfbf00; opacity: 0.5"/>
   </g>
   <g id="patch_62">
    <path d="M 477.36 306 L 482.4 306 L 482.4 278.64 L 477.36 278.64 z
" clip-path="url(#p67f2713d9f)" style="fill: #bfbf00; opacity: 0.5"/>
   </g>
   <g id="patch_63">
    <path d="M 508.32 306 L 513.36 306 L 513.36 278.64 L 508.32 278.64 z
" clip-path="url(#p67f2713d9f)" style="fill: #bfbf00; opacity: 0.5"/>
   </g>
   <g id="patch_64">
    <path d="M 53.28 306 L 58.32 306 L 58.32 306 L 53.28 306 z
" clip-path="url(#p67f2713d9f)" style="fill: #008000; opacity: 0.5"/>
   </g>
   <g id="patch_65">
    <path d="M 84.24 306 L 89.28 306 L 89.28 290.16 L 84.24 290.16 z
" clip-path="url(#p67f2713d9f)" style="fill: #008000; opacity: 0.5"/>
   </g>
   <g id="patch_66">
    <path d="M 115.2 306 L 120.24 306 L 120.24 296.64 L 115.2 296.64 z
" clip-path="url(#p67f2713d9f)" style="fill: #008000; opacity: 0.5"/>
   </g>
   <g id="patch_67">
    <path d="M 146.16 306 L 151.2 306 L 151.2 283.68 L 146.16 283.68 z
" clip-path="url(#p67f2713d9f)" style="fill: #008000; opacity: 0.5"/>
   </g>
   <g id="patch_68">
    <path d="M 177.12 306 L 182.16 306 L 182.16 280.8 L 177.12 280.8 z
" clip-path="url(#p67f2713d9f)" style="fill: #008000; opacity: 0.5"/>
   </g>
   <g id="patch_69">
    <path d="M 208.08 306 L 213.12 306 L 213.12 283.68 L 208.08 283.68 z
" clip-path="url(#p67f2713d9f)" style="fill: #008000; opacity: 0.5"/>
   </g>
   <g id="patch_70">
    <path d="M 239.04 306 L 244.08 306 L 244.08 280.8 L 239.04 280.8 z
" clip-path="url(#p67f2713d9f)" style="fill: #008000; opacity: 0.5"/>
   </g>
   <g id="patch_71">
    <path d="M 270 306 L 275.04 306 L 275.04 272.16 L 270 272.16 z
" clip-path="url(#p67f2713d9f)" style="fill: #008000; opacity: 0.5"/>
   </g>
   <g id="patch_72">
    <path d="M 300.96 306 L 306 306 L 306 290.16 L 300.96 290.16 z
" clip-path="url(#p67f2713d9f)" style="fill: #008000; opacity: 0.5"/>
   </g>
   <g id="patch_73">
    <path d="M 331.92 306 L 336.96 306 L 336.96 272.16 L 331.92 272.16 z
" clip-path="url(#p67f2713d9f)" style="fill: #008000; opacity: 0.5"/>
   </g>
   <g id="patch_74">
    <path d="M 362.88 306 L 367.92 306 L 367.92 274.32 L 362.88 274.32 z
" clip-path="url(#p67f2713d9f)" style="fill: #008000; opacity: 0.5"/>
   </g>
   <g id="patch_75">
    <path d="M 393.84 306 L 398.88 306 L 398.88 283.68 L 393.84 283.68 z
" clip-path="url(#p67f2713d9f)" style="fill: #008000; opacity: 0.5"/>
   </g>
   <g id="patch_76">
    <path d="M 424.8 306 L 429.84 306 L 429.84 264.96 L 424.8 264.96 z
" clip-path="url(#p67f2713d9f)" style="fill: #008000; opacity: 0.5"/>
   </g>
   <g id="patch_77">
    <path d="M 455.76 306 L 460.8 306 L 460.8 264.96 L 455.76 264.96 z
" clip-path="url(#p67f2713d9f)" style="fill: #008000; opacity: 0.5"/>
   </g>
   <g id="patch_78">
    <path d="M 486.72 306 L 491.76 306 L 491.76 276.48 L 486.72 276.48 z
" clip-path="url(#p67f2713d9f)" style="fill: #008000; opacity: 0.5"/>
   </g>
   <g id="patch_79">
    <path d="M 517.68 306 L 522.72 306 L 522.72 278.64 L 517.68 278.64 z
" clip-path="url(#p67f2713d9f)" style="fill: #008000; opacity: 0.5"/>
   </g>
   <g id="patch_80">
    <path d="M 62.64 306 L 67.68 306 L 67.68 306 L 62.64 306 z
" clip-path="url(#p67f2713d9f)" style="fill: #0000ff; opacity: 0.5"/>
   </g>
   <g id="patch_81">
    <path d="M 93.6 306 L 98.64 306 L 98.64 290.16 L 93.6 290.16 z
" clip-path="url(#p67f2713d9f)" style="fill: #0000ff; opacity: 0.5"/>
   </g>
   <g id="patch_82">
    <path d="M 124.56 306 L 129.6 306 L 129.6 290.16 L 124.56 290.16 z
" clip-path="url(#p67f2713d9f)" style="fill: #0000ff; opacity: 0.5"/>
   </g>
   <g id="patch_83">
    <path d="M 155.52 306 L 160.56 306 L 160.56 276.48 L 155.52 276.48 z
" clip-path="url(#p67f2713d9f)" style="fill: #0000ff; opacity: 0.5"/>
   </g>
   <g id="patch_84">
    <path d="M 186.48 306 L 191.52 306 L 191.52 278.64 L 186.48 278.64 z
" clip-path="url(#p67f2713d9f)" style="fill: #0000ff; opacity: 0.5"/>
   </g>
   <g id="patch_85">
    <path d="M 217.44 306 L 222.48 306 L 222.48 280.8 L 217.44 280.8 z
" clip-path="url(#p67f2713d9f)" style="fill: #0000ff; opacity: 0.5"/>
   </g>
   <g id="patch_86">
    <path d="M 248.4 306 L 253.44 306 L 253.44 292.32 L 248.4 292.32 z
" clip-path="url(#p67f2713d9f)" style="fill: #0000ff; opacity: 0.5"/>
   </g>
   <g id="patch_87">
    <path d="M 279.36 306 L 284.4 306 L 284.4 278.64 L 279.36 278.64 z
" clip-path="url(#p67f2713d9f)" style="fill: #0000ff; opacity: 0.5"/>
   </g>
   <g id="patch_88">
    <path d="M 310.32 306 L 315.36 306 L 315.36 283.68 L 310.32 283.68 z
" clip-path="url(#p67f2713d9f)" style="fill: #0000ff; opacity: 0.5"/>
   </g>
   <g id="patch_89">
    <path d="M 341.28 306 L 346.32 306 L 346.32 274.32 L 341.28 274.32 z
" clip-path="url(#p67f2713d9f)" style="fill: #0000ff; opacity: 0.5"/>
   </g>
   <g id="patch_90">
    <path d="M 372.24 306 L 377.28 306 L 377.28 283.68 L 372.24 283.68 z
" clip-path="url(#p67f2713d9f)" style="fill: #0000ff; opacity: 0.5"/>
   </g>
   <g id="patch_91">
    <path d="M 403.2 306 L 408.24 306 L 408.24 292.32 L 403.2 292.32 z
" clip-path="url(#p67f2713d9f)" style="fill: #0000ff; opacity: 0.5"/>
   </g>
   <g id="patch_92">
    <path d="M 434.16 306 L 439.2 306 L 439.2 296.64 L 434.16 296.64 z
" clip-path="url(#p67f2713d9f)" style="fill: #0000ff; opacity: 0.5"/>
   </g>
   <g id="patch_93">
    <path d="M 465.12 306 L 470.16 306 L 470.16 303.84 L 465.12 303.84 z
" clip-path="url(#p67f2713d9f)" style="fill: #0000ff; opacity: 0.5"/>
   </g>
   <g id="patch_94">
    <path d="M 496.08 306 L 501.12 306 L 501.12 274.32 L 496.08 274.32 z
" clip-path="url(#p67f2713d9f)" style="fill: #0000ff; opacity: 0.5"/>
   </g>
   <g id="patch_95">
    <path d="M 527.04 306 L 532.08 306 L 532.08 278.64 L 527.04 278.64 z
" clip-path="url(#p67f2713d9f)" style="fill: #0000ff; opacity: 0.5"/>
   </g>
   <g id="matplotlib.axis_5">
    <g id="xtick_33">
     <g id="line2d_42">
      <g>
       <use href="#m1504cfccaf" x="56.52" y="306.36" style="stroke: #000000; stroke-width: 0.8"/>
      </g>
     </g>
     <g id="xt2_0">
      <text style="font-size: 8px; font-family: 'DejaVu Sans', sans-serif; text-anchor: middle" x="55.8" y="320.415893" transform="translate(0.36 0) rotate(-0 55.8 320.415893) translate(55.8 320.415893) scale(0.97 1) translate(-55.8 -320.415893)">07/Abr</text>
     </g>
    </g>
    <g id="xtick_34">
     <g id="line2d_43">
      <g>
       <use href="#m1504cfccaf" x="87.48" y="306.36" style="stroke: #000000; stroke-width: 0.8"/>
      </g>
     </g>
     <g id="xt2_1">
      <text style="font-size: 8px; font-family: 'DejaVu Sans', sans-serif; text-anchor: middle" x="86.76" y="320.415893" transform="translate(0.36 0) rotate(-0 86.76 320.415893) translate(86.76 320.415893) scale(0.97 1) translate(-86.76 -320.415893)">08/Abr</text>
     </g>
    </g>
    <g id="xtick_35">
     <g id="line2d_44">
      <g>
       <use href="#m1504cfccaf" x="118.44" y="306.36" style="stroke: #000000; stroke-width: 0.8"/>
      </g>
     </g>
     <g id="xt2_2">
      <text style="font-size: 8px; font-family: 'DejaVu Sans', sans-serif; text-anchor: middle" x="117.72" y="320.415893" transform="translate(0.36 0) rotate(-0 117.72 320.415893) translate(117.72 320.415893) scale(0.97 1) translate(-117.72 -320.415893)">09/Abr</text>
     </g>
    </g>
    <g id="xtick_36">
     <g id="line2d_45">
      <g>
       <use href="#m1504cfccaf" x="149.4" y="306.36" style="stroke: #000000; stroke-width: 0.8"/>
      </g>
     </g>
     <g id="xt2_3">
      <text style="font-size: 8px; font-family: 'DejaVu Sans', sans-serif; text-anchor: middle" x="148.68" y="320.415893" transform="translate(0.36 0) rotate(-0 148.68 320.415893) translate(148.68 320.415893) scale(0.97 1) translate(-148.68 -320.415893)">10/Abr</text>
     </g>
    </g>
    <g id="xtick_37">
     <g id="line2d_46">
      <g>
       <use href="#m1504cfccaf" x="180.36" y="306.36" style="stroke: #000000; stroke-width: 0.8"/>
      </g>
     </g>
     <g id="xt2_4">
      <text style="font-size: 8px; font-family: 'DejaVu Sans', sans-serif; text-anchor: middle" x="179.64" y="320.415893" transform="translate(0.36 0) rotate(-0 179.64 320.415893) translate(179.64 320.415893) scale(0.97 1) translate(-179.64 -320.415893)">11/Abr</text>
     </g>
    </g>
    <g id="xtick_38">
     <g id="line2d_47">
      <g>
       <use href="#m1504cfccaf" x="211.32" y="306.36" style="stroke: #000000; stroke-width: 0.8"/>
      </g>
     </g>
     <g id="xt2_5">
      <text style="font-size: 8px; font-family: 'DejaVu Sans', sans-serif; text-anchor: middle" x="210.6" y="320.415893" transform="translate(0.36 0) rotate(-0 210.6 320.415893) translate(210.6 320.415893) scale(0.97 1) translate(-210.6 -320.415893)">12/Abr</text>
     </g>
    </g>
    <g id="xtick_39">
     <g id="line2d_48">
      <g>
       <use href="#m1504cfccaf" x="242.28" y="306.36" style="stroke: #000000; stroke-width: 0.8"/>
      </g>
     </g>
     <g id="xt2_6">
      <text style="font-size: 8px; font-family: 'DejaVu Sans', sans-serif; text-anchor: middle" x="241.56" y="320.415893" transform="translate(0.36 0) rotate(-0 241.56 320.415893) translate(241.56 320.415893) scale(0.97 1) translate(-241.56 -320.415893)">13/Abr</text>
     </g>
    </g>
    <g id="xtick_40">
     <g id="line2d_49">
      <g>
       <use href="#m1504cfccaf" x="273.24" y="306.36" style="stroke: #000000; stroke-width: 0.8"/>
      </g>
     </g>
     <g id="xt2_7">
      <text style="font-size: 8px; font-family: 'DejaVu Sans', sans-serif; text-anchor: middle" x="272.52" y="320.415893" transform="translate(0.36 0) rotate(-0 272.52 320.415893) translate(272.52 320.415893) scale(0.97 1) translate(-272.52 -320.415893)">14/Abr</text>
     </g>
    </g>
    <g id="xtick_41">
     <g id="line2d_50">
      <g>
       <use href="#m1504cfccaf" x="304.2" y="306.36" style="stroke: #000000; stroke-width: 0.8"/>
      </g>
     </g>
     <g id="xt2_8">
      <text style="font-size: 8px; font-family: 'DejaVu Sans', sans-serif; text-anchor: middle" x="303.48" y="320.415893" transform="translate(0.36 0) rotate(-0 303.48 320.415893) translate(303.48 320.415893) scale(0.97 1) translate(-303.48 -320.415893)">15/Abr</text>
     </g>
    </g>
    <g id="xtick_42">
     <g id="line2d_51">
      <g>
       <use href="#m1504cfccaf" x="335.16" y="306.36" style="stroke: #000000; stroke-width: 0.8"/>
      </g>
     </g>
     <g id="xt2_9">
      <text style="font-size: 8px; font-family: 'DejaVu Sans', sans-serif; text-anchor: middle" x="334.44" y="320.415893" transform="translate(0.36 0) rotate(-0 334.44 320.415893) translate(334.44 320.415893) scale(0.97 1) translate(-334.44 -320.415893)">16/Abr</text>
     </g>
    </g>
    <g id="xtick_43">
     <g id="line2d_52">
      <g>
       <use href="#m1504cfccaf" x="366.12" y="306.36" style="stroke: #000000; stroke-width: 0.8"/>
      </g>
     </g>
     <g id="xt2_10">
      <text style="font-size: 8px; font-family: 'DejaVu Sans', sans-serif; text-anchor: middle" x="365.4" y="320.415893" transform="translate(0.36 0) rotate(-0 365.4 320.415893) translate(365.4 320.415893) scale(0.97 1) translate(-365.4 -320.415893)">17/Abr</text>
     </g>
    </g>
    <g id="xtick_44">
     <g id="line2d_53">
      <g>
       <use href="#m1504cfccaf" x="397.08" y="306.36" style="stroke: #000000; stroke-width: 0.8"/>
      </g>
     </g>
     <g id="xt2_11">
      <text style="font-size: 8px; font-family: 'DejaVu Sans', sans-serif; text-anchor: middle" x="396.36" y="320.415893" transform="translate(0.36 0) rotate(-0 396.36 320.415893) translate(396.36 320.415893) scale(0.97 1) translate(-396.36 -320.415893)">18/Abr</text>
     </g>
    </g>
    <g id="xtick_45">
     <g id="line2d_54">
      <g>
       <use href="#m1504cfccaf" x="428.04" y="306.36" style="stroke: #000000; stroke-width: 0.8"/>
      </g>
     </g>
     <g id="xt2_12">
      <text style="font-size: 8px; font-family: 'DejaVu Sans', sans-serif; text-anchor: middle" x="427.32" y="320.415893" transform="translate(0.36 0) rotate(-0 427.32 320.415893) translate(427.32 320.415893) scale(0.97 1) translate(-427.32 -320.415893)">19/Abr</text>
     </g>
    </g>
    <g id="xtick_46">
     <g id="line2d_55">
      <g>
       <use href="#m1504cfccaf" x="459" y="306.36" style="stroke: #000000; stroke-width: 0.8"/>
      </g>
     </g>
     <g id="xt2_13">
      <text style="font-size: 8px; font-family: 'DejaVu Sans', sans-serif; text-anchor: middle" x="458.28" y="320.415893" transform="translate(0.36 0) rotate(-0 458.28 320.415893) translate(458.28 320.415893) scale(0.97 1) translate(-458.28 -320.415893)">20/Abr</text>
     </g>
    </g>
    <g id="xtick_47">
     <g id="line2d_56">
      <g>
       <use href="#m1504cfccaf" x="489.96" y="306.36" style="stroke: #000000; stroke-width: 0.8"/>
      </g>
     </g>
     <g id="xt2_14">
      <text style="font-size: 8px; font-family: 'DejaVu Sans', sans-serif; text-anchor: middle" x="489.24" y="320.415893" transform="translate(0.36 0) rotate(-0 489.24 320.415893) translate(489.24 320.415893) scale(0.97 1) translate(-489.24 -320.415893)">21/Abr</text>
     </g>
    </g>
    <g id="xtick_48">
     <g id="line2d_57">
      <g>
       <use href="#m1504cfccaf" x="520.92" y="306.36" style="stroke: #000000; stroke-width: 0.8"/>
      </g>
     </g>
     <g id="xt2_15">
      <text style="font-size: 8px; font-family: 'DejaVu Sans', sans-serif; text-anchor: middle" x="520.2" y="320.415893" transform="translate(0.36 0) rotate(-0 520.2 320.415893) translate(520.2 320.415893) scale(0.97 1) translate(-520.2 -320.415893)">22/Abr</text>
     </g>
    </g>
   </g>
   <g id="matplotlib.axis_6">
    <g id="ytick_9">
     <g id="line2d_58">
      <g>
       <use href="#m5d545ce8f8" x="40.68" y="306.36" style="stroke: #000000; stroke-width: 0.8"/>
      </g>
     </g>
     <g id="yt2_0">
      <text style="font-size: 8px; font-family: 'DejaVu Sans', sans-serif; text-anchor: end" x="33.32" y="309.080518" transform="translate(0 0) rotate(-0 33.32 309.080518) translate(33.32 309.080518) scale(0.8 1) translate(-33.32 -309.080518)">0</text>
     </g>
    </g>
    <g id="ytick_10">
     <g id="line2d_59">
      <g>
       <use href="#m5d545ce8f8" x="40.68" y="288.36" style="stroke: #000000; stroke-width: 0.8"/>
      </g>
     </g>
     <g id="yt2_1">
      <text style="font-size: 8px; font-family: 'DejaVu Sans', sans-serif; text-anchor: end" x="33.32" y="290.977661" transform="translate(0 0) rotate(-0 33.32 290.977661) translate(33.32 290.977661) scale(0.8 1) translate(-33.32 -290.977661)">8</text>
     </g>
    </g>
    <g id="ytick_11">
     <g id="line2d_60">
      <g>
       <use href="#m5d545ce8f8" x="40.68" y="270.36" style="stroke: #000000; stroke-width: 0.8"/>
      </g>
     </g>
     <g id="yt2_2">
      <text style="font-size: 8px; font-family: 'DejaVu Sans', sans-serif; text-anchor: end" x="33.32" y="272.874804" transform="translate(0 0) rotate(-0 33.32 272.874804) translate(33.32 272.874804) scale(0.8 1) translate(-33.32 -272.874804)">16</text>
     </g>
    </g>
    <g id="ytick_12">
     <g id="line2d_61">
      <g>
       <use href="#m5d545ce8f8" x="40.68" y="252.36" style="stroke: #000000; stroke-width: 0.8"/>
      </g>
     </g>
     <g id="yt2_3">
      <text style="font-size: 8px; font-family: 'DejaVu Sans', sans-serif; text-anchor: end" x="33.32" y="254.771946" transform="translate(0 0) rotate(-0 33.32 254.771946) translate(33.32 254.771946) scale(0.8 1) translate(-33.32 -254.771946)">24</text>
     </g>
    </g>
    <g id="yl2">
     <text style="font-size: 8px; font-family: 'DejaVu Sans', sans-serif; text-anchor: middle" x="17.47625" y="278.886857" transform="translate(2.376 1.08) rotate(-90 17.47625 278.886857) translate(17.47625 278.886857) scale(0.876 1) translate(-17.47625 -278.886857)">(horas)</text>
    </g>
   </g>
   <g id="patch_96">
    <path d="M 40.68 306.36 L 40.68 252.36 " style="fill: none; stroke: #000000; stroke-width: 0.8; stroke-linejoin: miter; stroke-linecap: square"/>
   </g>
   <g id="patch_97">
    <path d="M 536.04 306.36 L 536.04 252.36 " style="fill: none; stroke: #000000; stroke-width: 0.8; stroke-linejoin: miter; stroke-linecap: square"/>
   </g>
   <g id="patch_98">
    <path d="M 40.68 306.36 L 536.04 306.36 " style="fill: none; stroke: #000000; stroke-width: 0.8; stroke-linejoin: miter; stroke-linecap: square"/>
   </g>
   <g id="patch_99">
    <path d="M 40.68 252.36 L 536.04 252.36 " style="fill: none; stroke: #000000; stroke-width: 0.8; stroke-linejoin: miter; stroke-linecap: square"/>
   </g>
   <g id="t2">
    <text style="font-size: 8.5px; font-family: 'DejaVu Sans', sans-serif; text-anchor: middle" x="288" y="245.732571" transform="translate(-0.864 0) rotate(-0 288 245.732571) translate(288 245.732571) scale(0.99 1) translate(-288 -245.732571)">Duração do Período de Molhamento Foliar</text>
   </g>
   <g id="legend_2">
    <g id="patch_100">
     <path d="M 47.16 244.696777 L 61.16 244.696777 L 61.16 239.796777 L 47.16 239.796777 z
" style="fill: #bfbf00; opacity: 0.5"/>
    </g>
    <g id="lg2_0">
     <text style="font-size: 7px; font-family: 'DejaVu Sans', sans-serif; text-anchor: start" x="66.76" y="244.696777" transform="rotate(-0 66.76 244.696777)">NHUR</text>
    </g>
    <g id="patch_101">
     <path d="M 101.248125 244.696777 L 115.248125 244.696777 L 115.248125 239.796777 L 101.248125 239.796777 z
" style="fill: #008000; opacity: 0.5"/>
    </g>
    <g id="lg2_1">
     <text style="font-size: 7px; font-family: 'DejaVu Sans', sans-serif; text-anchor: start" x="120.848125" y="244.696777" transform="rotate(-0 120.848125 244.696777)">DPO</text>
    </g>
    <g id="patch_102">
     <path d="M 149.969219 244.696777 L 163.969219 244.696777 L 163.969219 239.796777 L 149.969219 239.796777 z
" style="fill: #0000ff; opacity: 0.5"/>
    </g>
    <g id="lg2_2">
     <text style="font-size: 7px; font-family: 'DejaVu Sans', sans-serif; text-anchor: start" x="169.569219" y="244.696777" transform="rotate(-0 169.569219 244.696777)">CART</text>
    </g>
   </g>
  </g>
  <g id="axes_4">
   <g id="patch_103">
    <path d="M 40.32 409.227429 L 535.68 409.227429 L 535.68 354.918857 L 40.32 354.918857 z
" style="fill: #ffffff"/>
   </g>
   <g id="matplotlib.axis_7">
    <g id="xtick_49">
     <g id="line2d_62">
      <g>
       <use href="#m1504cfccaf" x="56.52" y="409.32" style="stroke: #000000; stroke-width: 0.8"/>
      </g>
     </g>
     <g id="xt3_0">
      <text style="font-size: 8px; font-family: 'DejaVu Sans', sans-serif; text-anchor: middle" x="55.8" y="423.602179" transform="translate(0.36 0) rotate(-0 55.8 423.602179) translate(55.8 423.602179) scale(0.97 1) translate(-55.8 -423.602179)">07/Abr</text>
     </g>
    </g>
    <g id="xtick_50">
     <g id="line2d_63">
      <g>
       <use href="#m1504cfccaf" x="87.48" y="409.32" style="stroke: #000000; stroke-width: 0.8"/>
      </g>
     </g>
     <g id="xt3_1">
      <text style="font-size: 8px; font-family: 'DejaVu Sans', sans-serif; text-anchor: middle" x="86.76" y="423.602179" transform="translate(0.36 0) rotate(-0 86.76 423.602179) translate(86.76 423.602179) scale(0.97 1) translate(-86.76 -423.602179)">08/Abr</text>
     </g>
    </g>
    <g id="xtick_51">
     <g id="line2d_64">
      <g>
       <use href="#m1504cfccaf" x="118.44" y="409.32" style="stroke: #000000; stroke-width: 0.8"/>
      </g>
     </g>
     <g id="xt3_2">
      <text style="font-size: 8px; font-family: 'DejaVu Sans', sans-serif; text-anchor: middle" x="117.72" y="423.602179" transform="translate(0.36 0) rotate(-0 117.72 423.602179) translate(117.72 423.602179) scale(0.97 1) translate(-117.72 -423.602179)">09/Abr</text>
     </g>
    </g>
    <g id="xtick_52">
     <g id="line2d_65">
      <g>
       <use href="#m1504cfccaf" x="149.4" y="409.32" style="stroke: #000000; stroke-width: 0.8"/>
      </g>
     </g>
     <g id="xt3_3">
      <text style="font-size: 8px; font-family: 'DejaVu Sans', sans-serif; text-anchor: middle" x="148.68" y="423.602179" transform="translate(0.36 0) rotate(-0 148.68 423.602179) translate(148.68 423.602179) scale(0.97 1) translate(-148.68 -423.602179)">10/Abr</text>
     </g>
    </g>
    <g id="xtick_53">
     <g id="line2d_66">
      <g>
       <use href="#m1504cfccaf" x="180.36" y="409.32" style="stroke: #000000; stroke-width: 0.8"/>
      </g>
     </g>
     <g id="xt3_4">
      <text style="font-size: 8px; font-family: 'DejaVu Sans', sans-serif; text-anchor: middle" x="179.64" y="423.602179" transform="translate(0.36 0) rotate(-0 179.64 423.602179) translate(179.64 423.602179) scale(0.97 1) translate(-179.64 -423.602179)">11/Abr</text>
     </g>
    </g>
    <g id="xtick_54">
     <g id="line2d_67">
      <g>
       <use href="#m1504cfccaf" x="211.32" y="409.32" style="stroke: #000000; stroke-width: 0.8"/>
      </g>
     </g>
     <g id="xt3_5">
      <text style="font-size: 8px; font-family: 'DejaVu Sans', sans-serif; text-anchor: middle" x="210.6" y="423.602179" transform="translate(0.36 0) rotate(-0 210.6 423.602179) translate(210.6 423.602179) scale(0.97 1) translate(-210.6 -423.602179)">12/Abr</text>
     </g>
    </g>
    <g id="xtick_55">
     <g id="line2d_68">
      <g>
       <use href="#m1504cfccaf" x="242.28" y="409.32" style="stroke: #000000; stroke-width: 0.8"/>
      </g>
     </g>
     <g id="xt3_6">
      <text style="font-size: 8px; font-family: 'DejaVu Sans', sans-serif; text-anchor: middle" x="241.56" y="423.602179" transform="translate(0.36 0) rotate(-0 241.56 423.602179) translate(241.56 423.602179) scale(0.97 1) translate(-241.56 -423.602179)">13/Abr</text>
     </g>
    </g>
    <g id="xtick_56">
     <g id="line2d_69">
      <g>
       <use href="#m1504cfccaf" x="273.24" y="409.32" style="stroke: #000000; stroke-width: 0.8"/>
      </g>
     </g>
     <g id="xt3_7">
      <text style="font-size: 8px; font-family: 'DejaVu Sans', sans-serif; text-anchor: middle" x="272.52" y="423.602179" transform="translate(0.36 0) rotate(-0 272.52 423.602179) translate(272.52 423.602179) scale(0.97 1) translate(-272.52 -423.602179)">14/Abr</text>
     </g>
    </g>
    <g id="xtick_57">
     <g id="line2d_70">
      <g>
       <use href="#m1504cfccaf" x="304.2" y="409.32" style="stroke: #000000; stroke-width: 0.8"/>
      </g>
     </g>
     <g id="xt3_8">
      <text style="font-size: 8px; font-family: 'DejaVu Sans', sans-serif; text-anchor: middle" x="303.48" y="423.602179" transform="translate(0.36 0) rotate(-0 303.48 423.602179) translate(303.48 423.602179) scale(0.97 1) translate(-303.48 -423.602179)">15/Abr</text>
     </g>
    </g>
    <g id="xtick_58">
     <g id="line2d_71">
      <g>
       <use href="#m1504cfccaf" x="335.16" y="409.32" style="stroke: #000000; stroke-width: 0.8"/>
      </g>
     </g>
     <g id="xt3_9">
      <text style="font-size: 8px; font-family: 'DejaVu Sans', sans-serif; text-anchor: middle" x="334.44" y="423.602179" transform="translate(0.36 0) rotate(-0 334.44 423.602179) translate(334.44 423.602179) scale(0.97 1) translate(-334.44 -423.602179)">16/Abr</text>
     </g>
    </g>
    <g id="xtick_59">
     <g id="line2d_72">
      <g>
       <use href="#m1504cfccaf" x="366.12" y="409.32" style="stroke: #000000; stroke-width: 0.8"/>
      </g>
     </g>
     <g id="xt3_10">
      <text style="font-size: 8px; font-family: 'DejaVu Sans', sans-serif; text-anchor: middle" x="365.4" y="423.602179" transform="translate(0.36 0) rotate(-0 365.4 423.602179) translate(365.4 423.602179) scale(0.97 1) translate(-365.4 -423.602179)">17/Abr</text>
     </g>
    </g>
    <g id="xtick_60">
     <g id="line2d_73">
      <g>
       <use href="#m1504cfccaf" x="397.08" y="409.32" style="stroke: #000000; stroke-width: 0.8"/>
      </g>
     </g>
     <g id="xt3_11">
      <text style="font-size: 8px; font-family: 'DejaVu Sans', sans-serif; text-anchor: middle" x="396.36" y="423.602179" transform="translate(0.36 0) rotate(-0 396.36 423.602179) translate(396.36 423.602179) scale(0.97 1) translate(-396.36 -423.602179)">18/Abr</text>
     </g>
    </g>
    <g id="xtick_61">
     <g id="line2d_74">
      <g>
       <use href="#m1504cfccaf" x="428.04" y="409.32" style="stroke: #000000; stroke-width: 0.8"/>
      </g>
     </g>
     <g id="xt3_12">
      <text style="font-size: 8px; font-family: 'DejaVu Sans', sans-serif; text-anchor: middle" x="427.32" y="423.602179" transform="translate(0.36 0) rotate(-0 427.32 423.602179) translate(427.32 423.602179) scale(0.97 1) translate(-427.32 -423.602179)">19/Abr</text>
     </g>
    </g>
    <g id="xtick_62">
     <g id="line2d_75">
      <g>
       <use href="#m1504cfccaf" x="459" y="409.32" style="stroke: #000000; stroke-width: 0.8"/>
      </g>
     </g>
     <g id="xt3_13">
      <text style="font-size: 8px; font-family: 'DejaVu Sans', sans-serif; text-anchor: middle" x="458.28" y="423.602179" transform="translate(0.36 0) rotate(-0 458.28 423.602179) translate(458.28 423.602179) scale(0.97 1) translate(-458.28 -423.602179)">20/Abr</text>
     </g>
    </g>
    <g id="xtick_63">
     <g id="line2d_76">
      <g>
       <use href="#m1504cfccaf" x="489.96" y="409.32" style="stroke: #000000; stroke-width: 0.8"/>
      </g>
     </g>
     <g id="xt3_14">
      <text style="font-size: 8px; font-family: 'DejaVu Sans', sans-serif; text-anchor: middle" x="489.24" y="423.602179" transform="translate(0.36 0) rotate(-0 489.24 423.602179) translate(489.24 423.602179) scale(0.97 1) translate(-489.24 -423.602179)">21/Abr</text>
     </g>
    </g>
    <g id="xtick_64">
     <g id="line2d_77">
      <g>
       <use href="#m1504cfccaf" x="520.92" y="409.32" style="stroke: #000000; stroke-width: 0.8"/>
      </g>
     </g>
     <g id="xt3_15">
      <text style="font-size: 8px; font-family: 'DejaVu Sans', sans-serif; text-anchor: middle" x="520.2" y="423.602179" transform="translate(0.36 0) rotate(-0 520.2 423.602179) translate(520.2 423.602179) scale(0.97 1) translate(-520.2 -423.602179)">22/Abr</text>
     </g>
    </g>
   </g>
   <g id="matplotlib.axis_8">
    <g id="ytick_13">
     <g id="line2d_78">
      <g>
       <use href="#m5d545ce8f8" x="40.68" y="387" style="stroke: #000000; stroke-width: 0.8"/>
      </g>
     </g>
     <g id="yt3_1">
      <text style="font-size: 8px; font-family: 'DejaVu Sans', sans-serif; text-anchor: end" x="33.32" y="389.998687" transform="translate(0 0) rotate(-0 33.32 389.998687) translate(33.32 389.998687) scale(0.8 1) translate(-33.32 -389.998687)">10</text>
     </g>
    </g>
    <g id="ytick_14">
     <g id="line2d_79">
      <g>
       <use href="#m5d545ce8f8" x="40.68" y="355.32" style="stroke: #000000; stroke-width: 0.8"/>
      </g>
     </g>
     <g id="yt3_2">
      <text style="font-size: 8px; font-family: 'DejaVu Sans', sans-serif; text-anchor: end" x="33.32" y="357.958232" transform="translate(0 0) rotate(-0 33.32 357.958232) translate(33.32 357.958232) scale(0.8 1) translate(-33.32 -357.958232)">20</text>
     </g>
    </g>
    <g id="yl3">
     <text style="font-size: 8px; font-family: 'DejaVu Sans', sans-serif; text-anchor: middle" x="17.47625" y="382.073143" transform="translate(2.52 0.468) rotate(-90 17.47625 382.073143) translate(17.47625 382.073143) scale(0.855 1) translate(-17.47625 -382.073143)">(°C)</text>
    </g>
   </g>
   <g id="line2d_80">
    <path d="M 40.32 362.928971 L 71.28 372.861512 L 102.24 372.861512 L 133.2 372.060501 L 164.16 372.861512 L 195.12 373.502321 L 226.08 375.104344 L 257.04 381.031828 L 288 378.949198 L 318.96 379.590008 L 349.92 380.551221 L 380.88 381.19203 L 411.84 383.27466 L 442.8 382.794053 L 473.76 379.590008 L 504.72 375.584951 L 535.68 382.153244 " clip-path="url(#p473ab9a073)" style="fill: none; stroke: #000000; stroke-linecap: square"/>
   </g>
   <g id="line2d_81">
    <path d="M 40.32 369.337062 L 71.28 379.269603 L 102.24 379.269603 L 133.2 378.468592 L 164.16 379.269603 L 195.12 379.910412 L 226.08 381.512435 L 257.04 387.439919 L 288 385.35729 L 318.96 385.998099 L 349.92 386.959312 L 380.88 387.600121 L 411.84 389.682751 L 442.8 389.202144 L 473.76 385.998099 L 504.72 381.993042 L 535.68 388.561335 " clip-path="url(#p473ab9a073)" style="fill: none; stroke-dasharray: 3.7,1.6; stroke-dashoffset: 0; stroke: #000000"/>
   </g>
   <g id="line2d_82">
    <path d="M 40.32 375.745153 L 71.28 385.677694 L 102.24 385.677694 L 133.2 384.876683 L 164.16 385.677694 L 195.12 386.318503 L 226.08 387.920526 L 257.04 393.84801 L 288 391.765381 L 318.96 392.40619 L 349.92 393.367403 L 380.88 394.008212 L 411.84 396.090842 L 442.8 395.610235 L 473.76 392.40619 L 504.72 388.401133 L 535.68 394.969426 " clip-path="url(#p473ab9a073)" style="fill: none; stroke-dasharray: 6.4,1.6,1,1.6; stroke-dashoffset: 0; stroke: #000000"/>
   </g>
   <g id="line2d_83">
    <path d="M 40.32 382.153244 L 71.28 392.085785 L 102.24 392.085785 L 133.2 391.284774 L 164.16 392.085785 L 195.12 392.726594 L 226.08 394.328617 L 257.04 400.256101 L 288 398.173472 L 318.96 398.814281 L 349.92 399.775494 L 380.88 400.416303 L 411.84 402.498933 L 442.8 402.018326 L 473.76 398.814281 L 504.72 394.809224 L 535.68 401.377517 " clip-path="url(#p473ab9a073)" style="fill: none; stroke-dasharray: 1,1.65; stroke-dashoffset: 0; stroke: #000000"/>
   </g>
   <g id="patch_104">
    <path d="M 40.68 409.32 L 40.68 355.32 " style="fill: none; stroke: #000000; stroke-width: 0.8; stroke-linejoin: miter; stroke-linecap: square"/>
   </g>
   <g id="patch_105">
    <path d="M 536.04 409.32 L 536.04 355.32 " style="fill: none; stroke: #000000; stroke-width: 0.8; stroke-linejoin: miter; stroke-linecap: square"/>
   </g>
   <g id="patch_106">
    <path d="M 40.68 409.32 L 536.04 409.32 " style="fill: none; stroke: #000000; stroke-width: 0.8; stroke-linejoin: miter; stroke-linecap: square"/>
   </g>
   <g id="patch_107">
    <path d="M 40.68 355.32 L 536.04 355.32 " style="fill: none; stroke: #000000; stroke-width: 0.8; stroke-linejoin: miter; stroke-linecap: square"/>
   </g>
   <g id="t3">
    <text style="font-size: 8.5px; font-family: 'DejaVu Sans', sans-serif; text-anchor: middle" x="288" y="348.918857" transform="translate(0 0) rotate(-0 288 348.918857) translate(288 348.918857) scale(0.99 1) translate(-288 -348.918857)">Acúmulo de Graus-Dia</text>
   </g>
   <g id="legend_3">
    <g id="line2d_84">
     <path d="M 47.16 337.894323 L 54.16 337.894323 L 61.16 337.894323 " style="fill: none; stroke: #000000; stroke-linecap: square"/>
    </g>
    <g id="lg3_0">
     <text style="font-size: 7px; font-family: 'DejaVu Sans', sans-serif; text-anchor: start" x="66.76" y="340.344323" transform="rotate(-0 66.76 340.344323)">basal 10°C</text>
    </g>
    <g id="line2d_85">
     <path d="M 47.16 348.16901 L 54.16 348.16901 L 61.16 348.16901 " style="fill: none; stroke-dasharray: 3.7,1.6; stroke-dashoffset: 0; stroke: #000000"/>
    </g>
    <g id="lg3_1">
     <text style="font-size: 7px; font-family: 'DejaVu Sans', sans-serif; text-anchor: start" x="66.76" y="350.61901" transform="rotate(-0 66.76 350.61901)">basal 12°C</text>
    </g>
    <g id="line2d_86">
     <path d="M 118.894688 337.894323 L 125.894688 337.894323 L 132.894688 337.894323 " style="fill: none; stroke-dasharray: 6.4,1.6,1,1.6; stroke-dashoffset: 0; stroke: #000000"/>
    </g>
    <g id="lg3_2">
     <text style="font-size: 7px; font-family: 'DejaVu Sans', sans-serif; text-anchor: start" x="138.494687" y="340.344323" transform="rotate(-0 138.494687 340.344323)">basal 14°C</text>
    </g>
    <g id="line2d_87">
     <path d="M 118.894688 348.16901 L 125.894688 348.16901 L 132.894688 348.16901 " style="fill: none; stroke-dasharray: 1,1.65; stroke-dashoffset: 0; stroke: #000000"/>
    </g>
    <g id="lg3_3">
     <text style="font-size: 7px; font-family: 'DejaVu Sans', sans-serif; text-anchor: start" x="138.494687" y="350.61901" transform="rotate(-0 138.494687 350.61901)">basal 16°C</text>
    </g>
   </g>
  </g>
  <g id="axes_5">
   <g id="patch_108">
    <path d="M 40.32 512.413714 L 535.68 512.413714 L 535.68 458.105143 L 40.32 458.105143 z
" style="fill: #ffffff"/>
   </g>
   <g id="matplotlib.axis_9">
    <g id="xtick_65">
     <g id="line2d_88">
      <g>
       <use href="#m1504cfccaf" x="40.68" y="513" style="stroke: #000000; stroke-width: 0.8"/>
      </g>
     </g>
     <g id="xt4_0">
      <text style="font-size: 8px; font-family: 'DejaVu Sans', sans-serif; text-anchor: middle" x="40.32" y="526.788464" transform="translate(0.36 0) rotate(-0 40.32 526.788464) translate(40.32 526.788464) scale(0.97 1) translate(-40.32 -526.788464)">06/Abr</text>
     </g>
    </g>
    <g id="xtick_66">
     <g id="line2d_89">
      <g>
       <use href="#m1504cfccaf" x="71.64" y="513" style="stroke: #000000; stroke-width: 0.8"/>
      </g>
     </g>
     <g id="xt4_1">
      <text style="font-size: 8px; font-family: 'DejaVu Sans', sans-serif; text-anchor: middle" x="71.28" y="526.788464" transform="translate(0.36 0) rotate(-0 71.28 526.788464) translate(71.28 526.788464) scale(0.97 1) translate(-71.28 -526.788464)">07/Abr</text>
     </g>
    </g>
    <g id="xtick_67">
     <g id="line2d_90">
      <g>
       <use href="#m1504cfccaf" x="102.6" y="513" style="stroke: #000000; stroke-width: 0.8"/>
      </g>
     </g>
     <g id="xt4_2">
      <text style="font-size: 8px; font-family: 'DejaVu Sans', sans-serif; text-anchor: middle" x="102.24" y="526.788464" transform="translate(0.36 0) rotate(-0 102.24 526.788464) translate(102.24 526.788464) scale(0.97 1) translate(-102.24 -526.788464)">08/Abr</text>
     </g>
    </g>
    <g id="xtick_68">
     <g id="line2d_91">
      <g>
       <use href="#m1504cfccaf" x="133.56" y="513" style="stroke: #000000; stroke-width: 0.8"/>
      </g>
     </g>
     <g id="xt4_3">
      <text style="font-size: 8px; font-family: 'DejaVu Sans', sans-serif; text-anchor: middle" x="133.2" y="526.788464" transform="translate(0.36 0) rotate(-0 133.2 526.788464) translate(133.2 526.788464) scale(0.97 1) translate(-133.2 -526.788464)">09/Abr</text>
     </g>
    </g>
    <g id="xtick_69">
     <g id="line2d_92">
      <g>
       <use href="#m1504cfccaf" x="164.52" y="513" style="stroke: #000000; stroke-width: 0.8"/>
      </g>
     </g>
     <g id="xt4_4">
      <text style="font-size: 8px; font-family: 'DejaVu Sans', sans-serif; text-anchor: middle" x="164.16" y="526.788464" transform="translate(0.36 0) rotate(-0 164.16 526.788464) translate(164.16 526.788464) scale(0.97 1) translate(-164.16 -526.788464)">10/Abr</text>
     </g>
    </g>
    <g id="xtick_70">
     <g id="line2d_93">
      <g>
       <use href="#m1504cfccaf" x="195.48" y="513" style="stroke: #000000; stroke-width: 0.8"/>
      </g>
     </g>
     <g id="xt4_5">
      <text style="font-size: 8px; font-family: 'DejaVu Sans', sans-serif; text-anchor: middle" x="195.12" y="526.788464" transform="translate(0.36 0) rotate(-0 195.12 526.788464) translate(195.12 526.788464) scale(0.97 1) translate(-195.12 -526.788464)">11/Abr</text>
     </g>
    </g>
    <g id="xtick_71">
     <g id="line2d_94">
      <g>
       <use href="#m1504cfccaf" x="226.44" y="513" style="stroke: #000000; stroke-width: 0.8"/>
      </g>
     </g>
     <g id="xt4_6">
      <text style="font-size: 8px; font-family: 'DejaVu Sans', sans-serif; text-anchor: middle" x="226.08" y="526.788464" transform="translate(0.36 0) rotate(-0 226.08 526.788464) translate(226.08 526.788464) scale(0.97 1) translate(-226.08 -526.788464)">12/Abr</text>
     </g>
    </g>
    <g id="xtick_72">
     <g id="line2d_95">
      <g>
       <use href="#m1504cfccaf" x="257.4" y="513" style="stroke: #000000; stroke-width: 0.8"/>
      </g>
     </g>
     <g id="xt4_7">
      <text style="font-size: 8px; font-family: 'DejaVu Sans', sans-serif; text-anchor: middle" x="257.04" y="526.788464" transform="translate(0.36 0) rotate(-0 257.04 526.788464) translate(257.04 526.788464) scale(0.97 1) translate(-257.04 -526.788464)">13/Abr</text>
     </g>
    </g>
    <g id="xtick_73">
     <g id="line2d_96">
      <g>
       <use href="#m1504cfccaf" x="288.36" y="513" style="stroke: #000000; stroke-width: 0.8"/>
      </g>
     </g>
     <g id="xt4_8">
      <text style="font-size: 8px; font-family: 'DejaVu Sans', sans-serif; text-anchor: middle" x="288" y="526.788464" transform="translate(0.36 0) rotate(-0 288 526.788464) translate(288 526.788464) scale(0.97 1) translate(-288 -526.788464)">14/Abr</text>
     </g>
    </g>
    <g id="xtick_74">
     <g id="line2d_97">
      <g>
       <use href="#m1504cfccaf" x="319.32" y="513" style="stroke: #000000; stroke-width: 0.8"/>
      </g>
     </g>
     <g id="xt4_9">
      <text style="font-size: 8px; font-family: 'DejaVu Sans', sans-serif; text-anchor: middle" x="318.96" y="526.788464" transform="translate(0.36 0) rotate(-0 318.96 526.788464) translate(318.96 526.788464) scale(0.97 1) translate(-318.96 -526.788464)">15/Abr</text>
     </g>
    </g>
    <g id="xtick_75">
     <g id="line2d_98">
      <g>
       <use href="#m1504cfccaf" x="350.28" y="513" style="stroke: #000000; stroke-width: 0.8"/>
      </g>
     </g>
     <g id="xt4_10">
      <text style="font-size: 8px; font-family: 'DejaVu Sans', sans-serif; text-anchor: middle" x="349.92" y="526.788464" transform="translate(0.36 0) rotate(-0 349.92 526.788464) translate(349.92 526.788464) scale(0.97 1) translate(-349.92 -526.788464)">16/Abr</text>
     </g>
    </g>
    <g id="xtick_76">
     <g id="line2d_99">
      <g>
       <use href="#m1504cfccaf" x="381.24" y="513" style="stroke: #000000; stroke-width: 0.8"/>
      </g>
     </g>
     <g id="xt4_11">
      <text style="font-size: 8px; font-family: 'DejaVu Sans', sans-serif; text-anchor: middle" x="380.88" y="526.788464" transform="translate(0.36 0) rotate(-0 380.88 526.788464) translate(380.88 526.788464) scale(0.97 1) translate(-380.88 -526.788464)">17/Abr</text>
     </g>
    </g>
    <g id="xtick_77">
     <g id="line2d_100">
      <g>
       <use href="#m1504cfccaf" x="412.2" y="513" style="stroke: #000000; stroke-width: 0.8"/>
      </g>
     </g>
     <g id="xt4_12">
      <text style="font-size: 8px; font-family: 'DejaVu Sans', sans-serif; text-anchor: middle" x="411.84" y="526.788464" transform="translate(0.36 0) rotate(-0 411.84 526.788464) translate(411.84 526.788464) scale(0.97 1) translate(-411.84 -526.788464)">18/Abr</text>
     </g>
    </g>
    <g id="xtick_78">
     <g id="line2d_101">
      <g>
       <use href="#m1504cfccaf" x="443.16" y="513" style="stroke: #000000; stroke-width: 0.8"/>
      </g>
     </g>
     <g id="xt4_13">
      <text style="font-size: 8px; font-family: 'DejaVu Sans', sans-serif; text-anchor: middle" x="442.8" y="526.788464" transform="translate(0.36 0) rotate(-0 442.8 526.788464) translate(442.8 526.788464) scale(0.97 1) translate(-442.8 -526.788464)">19/Abr</text>
     </g>
    </g>
    <g id="xtick_79">
     <g id="line2d_102">
      <g>
       <use href="#m1504cfccaf" x="474.12" y="513" style="stroke: #000000; stroke-width: 0.8"/>
      </g>
     </g>
     <g id="xt4_14">
      <text style="font-size: 8px; font-family: 'DejaVu Sans', sans-serif; text-anchor: middle" x="473.76" y="526.788464" transform="translate(0.36 0) rotate(-0 473.76 526.788464) translate(473.76 526.788464) scale(0.97 1) translate(-473.76 -526.788464)">20/Abr</text>
     </g>
    </g>
    <g id="xtick_80">
     <g id="line2d_103">
      <g>
       <use href="#m1504cfccaf" x="505.08" y="513" style="stroke: #000000; stroke-width: 0.8"/>
      </g>
     </g>
     <g id="xt4_15">
      <text style="font-size: 8px; font-family: 'DejaVu Sans', sans-serif; text-anchor: middle" x="504.72" y="526.788464" transform="translate(0.36 0) rotate(-0 504.72 526.788464) translate(504.72 526.788464) scale(0.97 1) translate(-504.72 -526.788464)">21/Abr</text>
     </g>
    </g>
    <g id="xtick_81">
     <g id="line2d_104">
      <g>
       <use href="#m1504cfccaf" x="536.04" y="513" style="stroke: #000000; stroke-width: 0.8"/>
      </g>
     </g>
     <g id="xt4_16">
      <text style="font-size: 8px; font-family: 'DejaVu Sans', sans-serif; text-anchor: middle" x="535.68" y="526.788464" transform="translate(0.36 0) rotate(-0 535.68 526.788464) translate(535.68 526.788464) scale(0.97 1) translate(-535.68 -526.788464)">22/Abr</text>
     </g>
    </g>
   </g>
   <g id="matplotlib.axis_10">
    <g id="ytick_15">
     <g id="line2d_105">
      <g>
       <use href="#m5d545ce8f8" x="40.68" y="513" style="stroke: #000000; stroke-width: 0.8"/>
      </g>
     </g>
     <g id="yt4_0">
      <text style="font-size: 6.5px; font-family: 'DejaVu Sans', sans-serif; text-anchor: end" x="33.32" y="514.883206" transform="translate(0 0) rotate(-0 33.32 514.883206) translate(33.32 514.883206) scale(0.79 1) translate(-33.32 -514.883206)">15</text>
     </g>
    </g>
    <g id="ytick_16">
     <g id="line2d_106">
      <g>
       <use href="#m5d545ce8f8" x="40.68" y="503.64" style="stroke: #000000; stroke-width: 0.8"/>
      </g>
     </g>
     <g id="yt4_1">
      <text style="font-size: 6.5px; font-family: 'DejaVu Sans', sans-serif; text-anchor: end" x="33.32" y="505.831778" transform="translate(0 0) rotate(-0 33.32 505.831778) translate(33.32 505.831778) scale(0.79 1) translate(-33.32 -505.831778)">18</text>
     </g>
    </g>
    <g id="ytick_17">
     <g id="line2d_107">
      <g>
       <use href="#m5d545ce8f8" x="40.68" y="495" style="stroke: #000000; stroke-width: 0.8"/>
      </g>
     </g>
     <g id="yt4_2">
      <text style="font-size: 6.5px; font-family: 'DejaVu Sans', sans-serif; text-anchor: end" x="33.32" y="496.780349" transform="translate(-0.792 0) rotate(-0 33.32 496.780349) translate(33.32 496.780349) scale(0.77 1) translate(-33.32 -496.780349)">21</text>
     </g>
    </g>
    <g id="ytick_18">
     <g id="line2d_108">
      <g>
       <use href="#m5d545ce8f8" x="40.68" y="485.64" style="stroke: #000000; stroke-width: 0.8"/>
      </g>
     </g>
     <g id="yt4_3">
      <text style="font-size: 6.5px; font-family: 'DejaVu Sans', sans-serif; text-anchor: end" x="33.32" y="487.728921" transform="translate(-0.792 0) rotate(-0 33.32 487.728921) translate(33.32 487.728921) scale(0.77 1) translate(-33.32 -487.728921)">24</text>
     </g>
    </g>
    <g id="ytick_19">
     <g id="line2d_109">
      <g>
       <use href="#m5d545ce8f8" x="40.68" y="476.28" style="stroke: #000000; stroke-width: 0.8"/>
      </g>
     </g>
     <g id="yt4_4">
      <text style="font-size: 6.5px; font-family: 'DejaVu Sans', sans-serif; text-anchor: end" x="33.32" y="478.677492" transform="translate(-0.792 0) rotate(-0 33.32 478.677492) translate(33.32 478.677492) scale(0.77 1) translate(-33.32 -478.677492)">27</text>
     </g>
    </g>
    <g id="ytick_20">
     <g id="line2d_110">
      <g>
       <use href="#m5d545ce8f8" x="40.68" y="467.64" style="stroke: #000000; stroke-width: 0.8"/>
      </g>
     </g>
     <g id="yt4_5">
      <text style="font-size: 6.5px; font-family: 'DejaVu Sans', sans-serif; text-anchor: end" x="33.32" y="469.626064" transform="translate(-0.792 0) rotate(-0 33.32 469.626064) translate(33.32 469.626064) scale(0.77 1) translate(-33.32 -469.626064)">30</text>
     </g>
    </g>
    <g id="yl4">
     <text style="font-size: 8px; font-family: 'DejaVu Sans', sans-serif; text-anchor: middle" x="19.385" y="485.259429" transform="translate(1.08 1.08) rotate(-90 19.385 485.259429) translate(19.385 485.259429) scale(0.855 1) translate(-19.385 -485.259429)">(°C)</text>
    </g>
   </g>
   <g id="line2d_111">
    <path d="M 40.32 474.699429 L 71.28 484.052571 L 102.24 484.052571 L 133.2 483.298286 L 164.16 484.052571 L 195.12 484.656 L 226.08 486.164571 L 257.04 491.746286 L 288 489.785143 L 318.96 490.388571 L 349.92 491.293714 L 380.88 491.897143 L 411.84 493.858286 L 442.8 493.405714 L 473.76 490.388571 L 504.72 486.617143 L 535.68 492.802286 " clip-path="url(#p35d36e3c4f)" style="fill: none; stroke: #000000; stroke-width: 0.7; stroke-linecap: square"/>
    <defs>
     <path id="m0ef9cdae93" d="M 0 1.5 C 0.397805 1.5 0.77937 1.341951 1.06066 1.06066 C 1.341951 0.77937 1.5 0.397805 1.5 0 C 1.5 -0.397805 1.341951 -0.77937 1.06066 -1.06066 C 0.77937 -1.341951 0.397805 -1.5 0 -1.5 C -0.397805 -1.5 -0.77937 -1.341951 -1.06066 -1.06066 C -1.341951 -0.77937 -1.5 -0.397805 -1.5 0 C -1.5 0.397805 -1.341951 0.77937 -1.06066 1.06066 C -0.77937 1.341951 -0.397805 1.5 0 1.5 z
" style="stroke: #000000"/>
    </defs>
    <g clip-path="url(#p35d36e3c4f)">
     <use href="#m0ef9cdae93" x="40.68" y="474.84" style="stroke: #000000"/>
     <use href="#m0ef9cdae93" x="71.64" y="484.2" style="stroke: #000000"/>
     <use href="#m0ef9cdae93" x="102.6" y="484.2" style="stroke: #000000"/>
     <use href="#m0ef9cdae93" x="133.56" y="483.48" style="stroke: #000000"/>
     <use href="#m0ef9cdae93" x="164.52" y="484.2" style="stroke: #000000"/>
     <use href="#m0ef9cdae93" x="195.48" y="484.92" style="stroke: #000000"/>
     <use href="#m0ef9cdae93" x="226.44" y="486.36" style="stroke: #000000"/>
     <use href="#m0ef9cdae93" x="257.4" y="491.4" style="stroke: #000000"/>
     <use href="#m0ef9cdae93" x="288.36" y="489.96" style="stroke: #000000"/>
     <use href="#m0ef9cdae93" x="319.32" y="490.68" style="stroke: #000000"/>
     <use href="#m0ef9cdae93" x="350.28" y="491.4" style="stroke: #000000"/>
     <use href="#m0ef9cdae93" x="381.24" y="492.12" style="stroke: #000000"/>
     <use href="#m0ef9cdae93" x="412.2" y="493.56" style="stroke: #000000"/>
     <use href="#m0ef9cdae93" x="443.16" y="493.56" style="stroke: #000000"/>
     <use href="#m0ef9cdae93" x="474.12" y="490.68" style="stroke: #000000"/>
     <use href="#m0ef9cdae93" x="505.08" y="486.36" style="stroke: #000000"/>
     <use href="#m0ef9cdae93" x="536.04" y="492.84" style="stroke: #000000"/>
    </g>
   </g>
   <g id="line2d_112">
    <path d="M 40.32 486.164571 L 71.28 499.741714 L 102.24 494.914286 L 133.2 497.629714 L 164.16 498.534857 L 195.12 498.534857 L 226.08 496.121143 L 257.04 499.138286 L 288 502.758857 L 318.96 498.534857 L 349.92 499.138286 L 380.88 507.888 L 411.84 497.629714 L 442.8 499.138286 L 473.76 499.138286 L 504.72 499.741714 L 535.68 493.707429 " clip-path="url(#p35d36e3c4f)" style="fill: none; stroke: #0000ff; stroke-width: 0.7; stroke-linecap: square"/>
    <defs>
     <path id="mf9d3db6a98" d="M 0 1.5 C 0.397805 1.5 0.77937 1.341951 1.06066 1.06066 C 1.341951 0.77937 1.5 0.397805 1.5 0 C 1.5 -0.397805 1.341951 -0.77937 1.06066 -1.06066 C 0.77937 -1.341951 0.397805 -1.5 0 -1.5 C -0.397805 -1.5 -0.77937 -1.341951 -1.06066 -1.06066 C -1.341951 -0.77937 -1.5 -0.397805 -1.5 0 C -1.5 0.397805 -1.341951 0.77937 -1.06066 1.06066 C -0.77937 1.341951 -0.397805 1.5 0 1.5 z
" style="stroke: #0000ff"/>
    </defs>
    <g clip-path="url(#p35d36e3c4f)">
     <use href="#mf9d3db6a98" x="40.68" y="486.36" style="fill: #0000ff; stroke: #0000ff"/>
     <use href="#mf9d3db6a98" x="71.64" y="500.04" style="fill: #0000ff; stroke: #0000ff"/>
     <use href="#mf9d3db6a98" x="102.6" y="495" style="fill: #0000ff; stroke: #0000ff"/>
     <use href="#mf9d3db6a98" x="133.56" y="497.88" style="fill: #0000ff; stroke: #0000ff"/>
     <use href="#mf9d3db6a98" x="164.52" y="498.6" style="fill: #0000ff; stroke: #0000ff"/>
     <use href="#mf9d3db6a98" x="195.48" y="498.6" style="fill: #0000ff; stroke: #0000ff"/>
     <use href="#mf9d3db6a98" x="226.44" y="496.44" style="fill: #0000ff; stroke: #0000ff"/>
     <use href="#mf9d3db6a98" x="257.4" y="499.32" style="fill: #0000ff; stroke: #0000ff"/>
     <use href="#mf9d3db6a98" x="288.36" y="502.92" style="fill: #0000ff; stroke: #0000ff"/>
     <use href="#mf9d3db6a98" x="319.32" y="498.6" style="fill: #0000ff; stroke: #0000ff"/>
     <use href="#mf9d3db6a98" x="350.28" y="499.32" style="fill: #0000ff; stroke: #0000ff"/>
     <use href="#mf9d3db6a98" x="381.24" y="507.96" style="fill: #0000ff; stroke: #0000ff"/>
     <use href="#mf9d3db6a98" x="412.2" y="497.88" style="fill: #0000ff; stroke: #0000ff"/>
     <use href="#mf9d3db6a98" x="443.16" y="499.32" style="fill: #0000ff; stroke: #0000ff"/>
     <use href="#mf9d3db6a98" x="474.12" y="499.32" style="fill: #0000ff; stroke: #0000ff"/>
     <use href="#mf9d3db6a98" x="505.08" y="500.04" style="fill: #0000ff; stroke: #0000ff"/>
     <use href="#mf9d3db6a98" x="536.04" y="493.56" style="fill: #0000ff; stroke: #0000ff"/>
    </g>
   </g>
   <g id="line2d_113">
    <path d="M 40.32 467.156571 L 71.28 464.441143 L 102.24 472.587429 L 133.2 466.854857 L 164.16 469.570286 L 195.12 468.966857 L 226.08 471.078857 L 257.04 482.544 L 288 473.190857 L 318.96 477.414857 L 349.92 479.828571 L 380.88 474.699429 L 411.84 485.561143 L 442.8 482.544 L 473.76 475.302857 L 504.72 472.587429 L 535.68 489.785143 " clip-path="url(#p35d36e3c4f)" style="fill: none; stroke: #ff0000; stroke-width: 0.7; stroke-linecap: square"/>
    <defs>
     <path id="m7d1c635a83" d="M 0 1.5 C 0.397805 1.5 0.77937 1.341951 1.06066 1.06066 C 1.341951 0.77937 1.5 0.397805 1.5 0 C 1.5 -0.397805 1.341951 -0.77937 1.06066 -1.06066 C 0.77937 -1.341951 0.397805 -1.5 0 -1.5 C -0.397805 -1.5 -0.77937 -1.341951 -1.06066 -1.06066 C -1.341951 -0.77937 -1.5 -0.397805 -1.5 0 C -1.5 0.397805 -1.341951 0.77937 -1.06066 1.06066 C -0.77937 1.341951 -0.397805 1.5 0 1.5 z
" style="stroke: #ff0000"/>
    </defs>
    <g clip-path="url(#p35d36e3c4f)">
     <use href="#m7d1c635a83" x="40.68" y="466.92" style="fill: #ff0000; stroke: #ff0000"/>
     <use href="#m7d1c635a83" x="71.64" y="464.76" style="fill: #ff0000; stroke: #ff0000"/>
     <use href="#m7d1c635a83" x="102.6" y="472.68" style="fill: #ff0000; stroke: #ff0000"/>
     <use href="#m7d1c635a83" x="133.56" y="466.92" style="fill: #ff0000; stroke: #ff0000"/>
     <use href="#m7d1c635a83" x="164.52" y="469.8" style="fill: #ff0000; stroke: #ff0000"/>
     <use href="#m7d1c635a83" x="195.48" y="469.08" style="fill: #ff0000; stroke: #ff0000"/>
     <use href="#m7d1c635a83" x="226.44" y="471.24" style="fill: #ff0000; stroke: #ff0000"/>
     <use href="#m7d1c635a83" x="257.4" y="482.76" style="fill: #ff0000; stroke: #ff0000"/>
     <use href="#m7d1c635a83" x="288.36" y="473.4" style="fill: #ff0000; stroke: #ff0000"/>
     <use href="#m7d1c635a83" x="319.32" y="477.72" style="fill: #ff0000; stroke: #ff0000"/>
     <use href="#m7d1c635a83" x="350.28" y="479.88" style="fill: #ff0000; stroke: #ff0000"/>
     <use href="#m7d1c635a83" x="381.24" y="474.84" style="fill: #ff0000; stroke: #ff0000"/>
     <use href="#m7d1c635a83" x="412.2" y="485.64" style="fill: #ff0000; stroke: #ff0000"/>
     <use href="#m7d1c635a83" x="443.16" y="482.76" style="fill: #ff0000; stroke: #ff0000"/>
     <use href="#m7d1c635a83" x="474.12" y="475.56" style="fill: #ff0000; stroke: #ff0000"/>
     <use href="#m7d1c635a83" x="505.08" y="472.68" style="fill: #ff0000; stroke: #ff0000"/>
     <use href="#m7d1c635a83" x="536.04" y="489.96" style="fill: #ff0000; stroke: #ff0000"/>
    </g>
   </g>
   <g id="patch_109">
    <path d="M 40.68 513 L 40.68 458.28 " style="fill: none; stroke: #000000; stroke-width: 0.8; stroke-linejoin: miter; stroke-linecap: square"/>
   </g>
   <g id="patch_110">
    <path d="M 536.04 513 L 536.04 458.28 " style="fill: none; stroke: #000000; stroke-width: 0.8; stroke-linejoin: miter; stroke-linecap: square"/>
   </g>
   <g id="patch_111">
    <path d="M 40.68 513 L 536.04 513 " style="fill: none; stroke: #000000; stroke-width: 0.8; stroke-linejoin: miter; stroke-linecap: square"/>
   </g>
   <g id="patch_112">
    <path d="M 40.68 458.28 L 536.04 458.28 " style="fill: none; stroke: #000000; stroke-width: 0.8; stroke-linejoin: miter; stroke-linecap: square"/>
   </g>
   <g id="t4">
    <text style="font-size: 8.5px; font-family: 'DejaVu Sans', sans-serif; text-anchor: middle" x="288" y="452.105143" transform="translate(0 0) rotate(-0 288 452.105143) translate(288 452.105143) scale(0.99 1) translate(-288 -452.105143)">Temperatura do ar a 2 metros</text>
   </g>
   <g id="legend_4">
    <g id="line2d_114">
     <path d="M 47.16 448.979341 L 54.16 448.979341 L 61.16 448.979341 " style="fill: none; stroke: #000000; stroke-width: 0.7; stroke-linecap: square"/>
     <g>
      <use href="#m0ef9cdae93" x="54.36" y="448.92" style="stroke: #000000"/>
     </g>
    </g>
    <g id="lg4_0">
     <text style="font-size: 7px; font-family: 'DejaVu Sans', sans-serif; text-anchor: start" x="66.76" y="451.429341" transform="rotate(-0 66.76 451.429341)">média</text>
    </g>
    <g id="line2d_115">
     <path d="M 102.563906 448.979341 L 109.563906 448.979341 L 116.563906 448.979341 " style="fill: none; stroke: #0000ff; stroke-width: 0.7; stroke-linecap: square"/>
     <g>
      <use href="#mf9d3db6a98" x="109.8" y="448.92" style="fill: #0000ff; stroke: #0000ff"/>
     </g>
    </g>
    <g id="lg4_1">
     <text style="font-size: 7px; font-family: 'DejaVu Sans', sans-serif; text-anchor: start" x="122.163906" y="451.429341" transform="rotate(-0 122.163906 451.429341)">mínima</text>
    </g>
    <g id="line2d_116">
     <path d="M 162.416094 448.979341 L 169.416094 448.979341 L 176.416094 448.979341 " style="fill: none; stroke: #ff0000; stroke-width: 0.7; stroke-linecap: square"/>
     <g>
      <use href="#m7d1c635a83" x="169.56" y="448.92" style="fill: #ff0000; stroke: #ff0000"/>
     </g>
    </g>
    <g id="lg4_2">
     <text style="font-size: 7px; font-family: 'DejaVu Sans', sans-serif; text-anchor: start" x="182.016094" y="451.429341" transform="rotate(-0 182.016094 451.429341)">máxima</text>
    </g>
   </g>
  </g>
  <g id="axes_6">
   <g id="patch_113">
    <path d="M 40.32 615.6 L 535.68 615.6 L 535.68 561.291429 L 40.32 561.291429 z
" style="fill: #ffffff"/>
   </g>
   <g id="patch_114">
    <path d="M 40.32 585.502513 L 71.28 577.744146 L 102.24 585.502513 L 133.2 585.502513 L 164.16 585.502513 L 195.12 585.502513 L 226.08 585.502513 L 257.04 586.123182 L 288 592.485043 L 318.96 593.028129 L 349.92 593.26088 L 380.88 593.26088 L 411.84 593.26088 L 442.8 593.26088 L 473.76 593.26088 L 504.72 585.502513 L 535.68 585.502513 L 535.68 616.319986 L 40.32 616.319986 z
" style="fill: url(#gHI)"/>
   </g>
   <g id="matplotlib.axis_11">
    <g id="xtick_82">
     <g id="line2d_117">
      <g>
       <use href="#m1504cfccaf" x="56.52" y="615.96" style="stroke: #000000; stroke-width: 0.8"/>
      </g>
     </g>
     <g id="xt5_0">
      <text style="font-size: 8px; font-family: 'DejaVu Sans', sans-serif; text-anchor: middle" x="55.8" y="629.97475" transform="translate(0.36 0) rotate(-0 55.8 629.97475) translate(55.8 629.97475) scale(0.97 1) translate(-55.8 -629.97475)">07/Abr</text>
     </g>
    </g>
    <g id="xtick_83">
     <g id="line2d_118">
      <g>
       <use href="#m1504cfccaf" x="87.48" y="615.96" style="stroke: #000000; stroke-width: 0.8"/>
      </g>
     </g>
     <g id="xt5_1">
      <text style="font-size: 8px; font-family: 'DejaVu Sans', sans-serif; text-anchor: middle" x="86.76" y="629.97475" transform="translate(0.36 0) rotate(-0 86.76 629.97475) translate(86.76 629.97475) scale(0.97 1) translate(-86.76 -629.97475)">08/Abr</text>
     </g>
    </g>
    <g id="xtick_84">
     <g id="line2d_119">
      <g>
       <use href="#m1504cfccaf" x="118.44" y="615.96" style="stroke: #000000; stroke-width: 0.8"/>
      </g>
     </g>
     <g id="xt5_2">
      <text style="font-size: 8px; font-family: 'DejaVu Sans', sans-serif; text-anchor: middle" x="117.72" y="629.97475" transform="translate(0.36 0) rotate(-0 117.72 629.97475) translate(117.72 629.97475) scale(0.97 1) translate(-117.72 -629.97475)">09/Abr</text>
     </g>
    </g>
    <g id="xtick_85">
     <g id="line2d_120">
      <g>
       <use href="#m1504cfccaf" x="149.4" y="615.96" style="stroke: #000000; stroke-width: 0.8"/>
      </g>
     </g>
     <g id="xt5_3">
      <text style="font-size: 8px; font-family: 'DejaVu Sans', sans-serif; text-anchor: middle" x="148.68" y="629.97475" transform="translate(0.36 0) rotate(-0 148.68 629.97475) translate(148.68 629.97475) scale(0.97 1) translate(-148.68 -629.97475)">10/Abr</text>
     </g>
    </g>
    <g id="xtick_86">
     <g id="line2d_121">
      <g>
       <use href="#m1504cfccaf" x="180.36" y="615.96" style="stroke: #000000; stroke-width: 0.8"/>
      </g>
     </g>
     <g id="xt5_4">
      <text style="font-size: 8px; font-family: 'DejaVu Sans', sans-serif; text-anchor: middle" x="179.64" y="629.97475" transform="translate(0.36 0) rotate(-0 179.64 629.97475) translate(179.64 629.97475) scale(0.97 1) translate(-179.64 -629.97475)">11/Abr</text>
     </g>
    </g>
    <g id="xtick_87">
     <g id="line2d_122">
      <g>
       <use href="#m1504cfccaf" x="211.32" y="615.96" style="stroke: #000000; stroke-width: 0.8"/>
      </g>
     </g>
     <g id="xt5_5">
      <text style="font-size: 8px; font-family: 'DejaVu Sans', sans-serif; text-anchor: middle" x="210.6" y="629.97475" transform="translate(0.36 0) rotate(-0 210.6 629.97475) translate(210.6 629.97475) scale(0.97 1) translate(-210.6 -629.97475)">12/Abr</text>
     </g>
    </g>
    <g id="xtick_88">
     <g id="line2d_123">
      <g>
       <use href="#m1504cfccaf" x="242.28" y="615.96" style="stroke: #000000; stroke-width: 0.8"/>
      </g>
     </g>
     <g id="xt5_6">
      <text style="font-size: 8px; font-family: 'DejaVu Sans', sans-serif; text-anchor: middle" x="241.56" y="629.97475" transform="translate(0.36 0) rotate(-0 241.56 629.97475) translate(241.56 629.97475) scale(0.97 1) translate(-241.56 -629.97475)">13/Abr</text>
     </g>
    </g>
    <g id="xtick_89">
     <g id="line2d_124">
      <g>
       <use href="#m1504cfccaf" x="273.24" y="615.96" style="stroke: #000000; stroke-width: 0.8"/>
      </g>
     </g>
     <g id="xt5_7">
      <text style="font-size: 8px; font-family: 'DejaVu Sans', sans-serif; text-anchor: middle" x="272.52" y="629.97475" transform="translate(0.36 0) rotate(-0 272.52 629.97475) translate(272.52 629.97475) scale(0.97 1) translate(-272.52 -629.97475)">14/Abr</text>
     </g>
    </g>
    <g id="xtick_90">
     <g id="line2d_125">
      <g>
       <use href="#m1504cfccaf" x="304.2" y="615.96" style="stroke: #000000; stroke-width: 0.8"/>
      </g>
     </g>
     <g id="xt5_8">
      <text style="font-size: 8px; font-family: 'DejaVu Sans', sans-serif; text-anchor: middle" x="303.48" y="629.97475" transform="translate(0.36 0) rotate(-0 303.48 629.97475) translate(303.48 629.97475) scale(0.97 1) translate(-303.48 -629.97475)">15/Abr</text>
     </g>
    </g>
    <g id="xtick_91">
     <g id="line2d_126">
      <g>
       <use href="#m1504cfccaf" x="335.16" y="615.96" style="stroke: #000000; stroke-width: 0.8"/>
      </g>
     </g>
     <g id="xt5_9">
      <text style="font-size: 8px; font-family: 'DejaVu Sans', sans-serif; text-anchor: middle" x="334.44" y="629.97475" transform="translate(0.36 0) rotate(-0 334.44 629.97475) translate(334.44 629.97475) scale(0.97 1) translate(-334.44 -629.97475)">16/Abr</text>
     </g>
    </g>
    <g id="xtick_92">
     <g id="line2d_127">
      <g>
       <use href="#m1504cfccaf" x="366.12" y="615.96" style="stroke: #000000; stroke-width: 0.8"/>
      </g>
     </g>
     <g id="xt5_10">
      <text style="font-size: 8px; font-family: 'DejaVu Sans', sans-serif; text-anchor: middle" x="365.4" y="629.97475" transform="translate(0.36 0) rotate(-0 365.4 629.97475) translate(365.4 629.97475) scale(0.97 1) translate(-365.4 -629.97475)">17/Abr</text>
     </g>
    </g>
    <g id="xtick_93">
     <g id="line2d_128">
      <g>
       <use href="#m1504cfccaf" x="397.08" y="615.96" style="stroke: #000000; stroke-width: 0.8"/>
      </g>
     </g>
     <g id="xt5_11">
      <text style="font-size: 8px; font-family: 'DejaVu Sans', sans-serif; text-anchor: middle" x="396.36" y="629.97475" transform="translate(0.36 0) rotate(-0 396.36 629.97475) translate(396.36 629.97475) scale(0.97 1) translate(-396.36 -629.97475)">18/Abr</text>
     </g>
    </g>
    <g id="xtick_94">
     <g id="line2d_129">
      <g>
       <use href="#m1504cfccaf" x="428.04" y="615.96" style="stroke: #000000; stroke-width: 0.8"/>
      </g>
     </g>
     <g id="xt5_12">
      <text style="font-size: 8px; font-family: 'DejaVu Sans', sans-serif; text-anchor: middle" x="427.32" y="629.97475" transform="translate(0.36 0) rotate(-0 427.32 629.97475) translate(427.32 629.97475) scale(0.97 1) translate(-427.32 -629.97475)">19/Abr</text>
     </g>
    </g>
    <g id="xtick_95">
     <g id="line2d_130">
      <g>
       <use href="#m1504cfccaf" x="459" y="615.96" style="stroke: #000000; stroke-width: 0.8"/>
      </g>
     </g>
     <g id="xt5_13">
      <text style="font-size: 8px; font-family: 'DejaVu Sans', sans-serif; text-anchor: middle" x="458.28" y="629.97475" transform="translate(0.36 0) rotate(-0 458.28 629.97475) translate(458.28 629.97475) scale(0.97 1) translate(-458.28 -629.97475)">20/Abr</text>
     </g>
    </g>
    <g id="xtick_96">
     <g id="line2d_131">
      <g>
       <use href="#m1504cfccaf" x="489.96" y="615.96" style="stroke: #000000; stroke-width: 0.8"/>
      </g>
     </g>
     <g id="xt5_14">
      <text style="font-size: 8px; font-family: 'DejaVu Sans', sans-serif; text-anchor: middle" x="489.24" y="629.97475" transform="translate(0.36 0) rotate(-0 489.24 629.97475) translate(489.24 629.97475) scale(0.97 1) translate(-489.24 -629.97475)">21/Abr</text>
     </g>
    </g>
    <g id="xtick_97">
     <g id="line2d_132">
      <g>
       <use href="#m1504cfccaf" x="520.92" y="615.96" style="stroke: #000000; stroke-width: 0.8"/>
      </g>
     </g>
     <g id="xt5_15">
      <text style="font-size: 8px; font-family: 'DejaVu Sans', sans-serif; text-anchor: middle" x="520.2" y="629.97475" transform="translate(0.36 0) rotate(-0 520.2 629.97475) translate(520.2 629.97475) scale(0.97 1) translate(-520.2 -629.97475)">22/Abr</text>
     </g>
    </g>
   </g>
   <g id="matplotlib.axis_12">
    <g id="ytick_21">
     <g id="line2d_133">
      <g>
       <use href="#m5d545ce8f8" x="40.68" y="615.96" style="stroke: #000000; stroke-width: 0.8"/>
      </g>
     </g>
     <g id="yt5_0">
      <text style="font-size: 8px; font-family: 'DejaVu Sans', sans-serif; text-anchor: end" x="33.32" y="618.639375" transform="translate(0 0) rotate(-0 33.32 618.639375) translate(33.32 618.639375) scale(0.935 1) translate(-33.32 -618.639375)">0,0</text>
     </g>
    </g>
    <g id="ytick_22">
     <g id="line2d_134">
      <g>
       <use href="#m5d545ce8f8" x="40.68" y="596.52" style="stroke: #000000; stroke-width: 0.8"/>
      </g>
     </g>
     <g id="yt5_1">
      <text style="font-size: 8px; font-family: 'DejaVu Sans', sans-serif; text-anchor: end" x="33.32" y="599.243457" transform="translate(0 0) rotate(-0 33.32 599.243457) translate(33.32 599.243457) scale(0.935 1) translate(-33.32 -599.243457)">2,5</text>
     </g>
    </g>
    <g id="ytick_23">
     <g id="line2d_135">
      <g>
       <use href="#m5d545ce8f8" x="40.68" y="577.08" style="stroke: #000000; stroke-width: 0.8"/>
      </g>
     </g>
     <g id="yt5_2">
      <text style="font-size: 8px; font-family: 'DejaVu Sans', sans-serif; text-anchor: end" x="33.32" y="579.847538" transform="translate(0 0) rotate(-0 33.32 579.847538) translate(33.32 579.847538) scale(0.935 1) translate(-33.32 -579.847538)">5,0</text>
     </g>
    </g>
    <g id="yl5">
     <text style="font-size: 8px; font-family: 'DejaVu Sans', sans-serif; text-anchor: middle" x="14.93375" y="588.445714" transform="translate(0.216 1.044) rotate(-90 14.93375 588.445714) translate(14.93375 588.445714) scale(0.88 1) translate(-14.93375 -588.445714)">(HI)</text>
    </g>
   </g>
   <g id="line2d_136">
    <path d="M 40.32 584.566531 L 71.28 576.808163 L 102.24 584.566531 L 133.2 584.566531 L 164.16 584.566531 L 195.12 584.566531 L 226.08 584.566531 L 257.04 585.1872 L 288 591.549061 L 318.96 592.092147 L 349.92 592.324898 L 380.88 592.324898 L 411.84 592.324898 L 442.8 592.324898 L 473.76 592.324898 L 504.72 584.566531 L 535.68 584.566531 " clip-path="url(#pf2e2e793a4)" style="fill: none; stroke: #707070; stroke-linecap: square"/>
   </g>
   <g id="patch_115">
    <path d="M 40.68 615.96 L 40.68 561.96 " style="fill: none; stroke: #000000; stroke-width: 0.8; stroke-linejoin: miter; stroke-linecap: square"/>
   </g>
   <g id="patch_116">
    <path d="M 536.04 615.96 L 536.04 561.96 " style="fill: none; stroke: #000000; stroke-width: 0.8; stroke-linejoin: miter; stroke-linecap: square"/>
   </g>
   <g id="patch_117">
    <path d="M 40.68 615.96 L 536.04 615.96 " style="fill: none; stroke: #000000; stroke-width: 0.8; stroke-linejoin: miter; stroke-linecap: square"/>
   </g>
   <g id="patch_118">
    <path d="M 40.68 561.96 L 536.04 561.96 " style="fill: none; stroke: #000000; stroke-width: 0.8; stroke-linejoin: miter; stroke-linecap: square"/>
   </g>
   <g id="lab20">
    <text style="font-style: italic; font-size: 7px; font-family: 'DejaVu Sans', sans-serif; text-anchor: middle" x="46.512" y="583.05488" transform="translate(0 0) rotate(-0 46.512 583.05488) translate(46.512 583.05488) scale(0.9 1) translate(-46.512 -583.05488)">4</text>
   </g>
   <g id="lab21">
    <text style="font-style: italic; font-size: 7px; font-family: 'DejaVu Sans', sans-serif; text-anchor: middle" x="71.28" y="575.296513" transform="translate(0 0) rotate(-0 71.28 575.296513) translate(71.28 575.296513) scale(0.9 1) translate(-71.28 -575.296513)">5</text>
   </g>
   <g id="lab22">
    <text style="font-style: italic; font-size: 7px; font-family: 'DejaVu Sans', sans-serif; text-anchor: middle" x="102.24" y="583.05488" transform="translate(0 0) rotate(-0 102.24 583.05488) translate(102.24 583.05488) scale(0.9 1) translate(-102.24 -583.05488)">4</text>
   </g>
   <g id="lab23">
    <text style="font-style: italic; font-size: 7px; font-family: 'DejaVu Sans', sans-serif; text-anchor: middle" x="133.2" y="583.05488" transform="translate(0 0) rotate(-0 133.2 583.05488) translate(133.2 583.05488) scale(0.9 1) translate(-133.2 -583.05488)">4</text>
   </g>
   <g id="lab24">
    <text style="font-style: italic; font-size: 7px; font-family: 'DejaVu Sans', sans-serif; text-anchor: middle" x="164.16" y="583.05488" transform="translate(0 0) rotate(-0 164.16 583.05488) translate(164.16 583.05488) scale(0.9 1) translate(-164.16 -583.05488)">4</text>
   </g>
   <g id="lab25">
    <text style="font-style: italic; font-size: 7px; font-family: 'DejaVu Sans', sans-serif; text-anchor: middle" x="195.12" y="583.05488" transform="translate(0 0) rotate(-0 195.12 583.05488) translate(195.12 583.05488) scale(0.9 1) translate(-195.12 -583.05488)">4</text>
   </g>
   <g id="lab26">
    <text style="font-style: italic; font-size: 7px; font-family: 'DejaVu Sans', sans-serif; text-anchor: middle" x="226.08" y="583.05488" transform="translate(0 0) rotate(-0 226.08 583.05488) translate(226.08 583.05488) scale(0.9 1) translate(-226.08 -583.05488)">4</text>
   </g>
   <g id="lab27">
    <text style="font-style: italic; font-size: 7px; font-family: 'DejaVu Sans', sans-serif; text-anchor: middle" x="257.04" y="583.675549" transform="translate(0 0) rotate(-0 257.04 583.675549) translate(257.04 583.675549) scale(0.9 1) translate(-257.04 -583.675549)">3</text>
   </g>
   <g id="lab28">
    <text style="font-style: italic; font-size: 7px; font-family: 'DejaVu Sans', sans-serif; text-anchor: middle" x="288" y="590.037411" transform="translate(0 0) rotate(-0 288 590.037411) translate(288 590.037411) scale(0.9 1) translate(-288 -590.037411)">3</text>
   </g>
   <g id="lab29">
    <text style="font-style: italic; font-size: 7px; font-family: 'DejaVu Sans', sans-serif; text-anchor: middle" x="318.96" y="590.580496" transform="translate(0 0) rotate(-0 318.96 590.580496) translate(318.96 590.580496) scale(0.9 1) translate(-318.96 -590.580496)">3</text>
   </g>
   <g id="lab30">
    <text style="font-style: italic; font-size: 7px; font-family: 'DejaVu Sans', sans-serif; text-anchor: middle" x="349.92" y="590.813247" transform="translate(0 0) rotate(-0 349.92 590.813247) translate(349.92 590.813247) scale(0.9 1) translate(-349.92 -590.813247)">3</text>
   </g>
   <g id="lab31">
    <text style="font-style: italic; font-size: 7px; font-family: 'DejaVu Sans', sans-serif; text-anchor: middle" x="380.88" y="590.813247" transform="translate(0 0) rotate(-0 380.88 590.813247) translate(380.88 590.813247) scale(0.9 1) translate(-380.88 -590.813247)">3</text>
   </g>
   <g id="lab32">
    <text style="font-style: italic; font-size: 7px; font-family: 'DejaVu Sans', sans-serif; text-anchor: middle" x="411.84" y="590.813247" transform="translate(0 0) rotate(-0 411.84 590.813247) translate(411.84 590.813247) scale(0.9 1) translate(-411.84 -590.813247)">3</text>
   </g>
   <g id="lab33">
    <text style="font-style: italic; font-size: 7px; font-family: 'DejaVu Sans', sans-serif; text-anchor: middle" x="442.8" y="590.813247" transform="translate(0 0) rotate(-0 442.8 590.813247) translate(442.8 590.813247) scale(0.9 1) translate(-442.8 -590.813247)">3</text>
   </g>
   <g id="lab34">
    <text style="font-style: italic; font-size: 7px; font-family: 'DejaVu Sans', sans-serif; text-anchor: middle" x="473.76" y="590.813247" transform="translate(0 0) rotate(-0 473.76 590.813247) translate(473.76 590.813247) scale(0.9 1) translate(-473.76 -590.813247)">3</text>
   </g>
   <g id="lab35">
    <text style="font-style: italic; font-size: 7px; font-family: 'DejaVu Sans', sans-serif; text-anchor: middle" x="504.72" y="583.05488" transform="translate(0 0) rotate(-0 504.72 583.05488) translate(504.72 583.05488) scale(0.9 1) translate(-504.72 -583.05488)">4</text>
   </g>
   <g id="lab36">
    <text style="font-style: italic; font-size: 7px; font-family: 'DejaVu Sans', sans-serif; text-anchor: middle" x="529.488" y="583.05488" transform="translate(0 0) rotate(-0 529.488 583.05488) translate(529.488 583.05488) scale(0.9 1) translate(-529.488 -583.05488)">4</text>
   </g>
   <g id="t5">
    <text style="font-size: 8.5px; font-family: 'DejaVu Sans', sans-serif; text-anchor: middle" x="288" y="555.291429" transform="translate(0 0) rotate(-0 288 555.291429) translate(288 555.291429) scale(0.99 1) translate(-288 -555.291429)">Risco de Incêndio (Haines Index)</text>
   </g>
  </g>
  <g id="axes_7">
   <g id="matplotlib.axis_13"/>
   <g id="line2d_137">
    <path d="M 40.32 96.988431 L 71.28 93.638256 L 102.24 90.958116 L 133.2 87.831286 L 164.16 84.778904 L 195.12 81.800971 L 226.08 79.046383 L 257.04 76.961829 L 288 74.132793 L 318.96 71.750446 L 349.92 69.516996 L 380.88 66.613511 L 411.84 64.901199 L 442.8 62.891094 L 473.76 60.434299 L 504.72 57.754159 L 535.68 56.749106 " clip-path="url(#pa5bd906f96)" style="fill: none; stroke: #ff0000; stroke-opacity: 0.5; stroke-linecap: square"/>
   </g>
   <g id="line2d_138">
    <path d="M 40.32 94.38274 L 71.28 91.032565 L 102.24 88.277976 L 133.2 85.002249 L 164.16 81.875419 L 195.12 78.823038 L 226.08 75.621759 L 257.04 73.834999 L 288 71.303756 L 318.96 68.400271 L 349.92 66.315717 L 380.88 63.486681 L 411.84 62.072162 L 442.8 60.136506 L 473.76 57.67971 L 504.72 54.627329 L 535.68 54.411429 " clip-path="url(#pa5bd906f96)" style="fill: none; stroke-dasharray: 3.7,1.6; stroke-dashoffset: 0; stroke: #0000ff; stroke-opacity: 0.5"/>
   </g>
   <g id="patch_119">
    <path d="M 40.68 99.72 L 40.68 45.72 " style="fill: none; stroke: #000000; stroke-width: 0.8; stroke-linejoin: miter; stroke-linecap: square"/>
   </g>
   <g id="patch_120">
    <path d="M 536.04 99.72 L 536.04 45.72 " style="fill: none; stroke: #000000; stroke-width: 0.8; stroke-linejoin: miter; stroke-linecap: square"/>
   </g>
   <g id="patch_121">
    <path d="M 40.68 99.72 L 536.04 99.72 " style="fill: none; stroke: #000000; stroke-width: 0.8; stroke-linejoin: miter; stroke-linecap: square"/>
   </g>
   <g id="patch_122">
    <path d="M 40.68 45.72 L 536.04 45.72 " style="fill: none; stroke: #000000; stroke-width: 0.8; stroke-linejoin: miter; stroke-linecap: square"/>
   </g>
  </g>
  <g id="sup">
   <text style="font-size: 12px; font-family: 'DejaVu Sans', sans-serif; text-anchor: middle" x="288" y="15.598125" transform="rotate(-0 288 15.598125)">Agrometeograma para Rio Verde</text>
  </g>
  <g id="ann0">
   <text style="font-size: 7px; font-family: 'DejaVu Sans', sans-serif; text-anchor: start; fill: #0000ff" x="544.32" y="46.44" transform="translate(0 0.72) rotate(-0 544.32 46.44) translate(544.32 46.44) scale(0.954 1) translate(-544.32 -46.44)">60.79</text>
  </g>
  <g id="ann1">
   <text style="font-size: 7px; font-family: 'DejaVu Sans', sans-serif; text-anchor: start; fill: #ff0000" x="544.32" y="64.62" transform="translate(0 0) rotate(-0 544.32 64.62) translate(544.32 64.62) scale(0.954 1) translate(-544.32 -64.62)">57.65</text>
  </g>
  <g id="ann2">
   <text style="font-size: 8px; font-family: 'DejaVu Sans', sans-serif; text-anchor: start; fill: #ff0000" x="537.12" y="78.48" transform="rotate(-0 537.12 78.48)">(mm)</text>
  </g>
 </g>
 <defs>
  <clipPath id="pa5bd906f96">
   <rect x="40.32" y="45.36" width="495.36" height="54.308571"/>
  </clipPath>
  <clipPath id="pe6c8016ddb">
   <rect x="40.32" y="148.546286" width="495.36" height="54.308571"/>
  </clipPath>
  <clipPath id="p67f2713d9f">
   <rect x="40.32" y="251.732571" width="495.36" height="54.308571"/>
  </clipPath>
  <clipPath id="p473ab9a073">
   <rect x="40.32" y="354.918857" width="495.36" height="54.308571"/>
  </clipPath>
  <clipPath id="p35d36e3c4f">
   <rect x="40.32" y="458.105143" width="495.36" height="54.308571"/>
  </clipPath>
  <clipPath id="pf2e2e793a4">
   <rect x="40.32" y="561.291429" width="495.36" height="54.308571"/>
  </clipPath>
 </defs>
</svg>

</body></html>
